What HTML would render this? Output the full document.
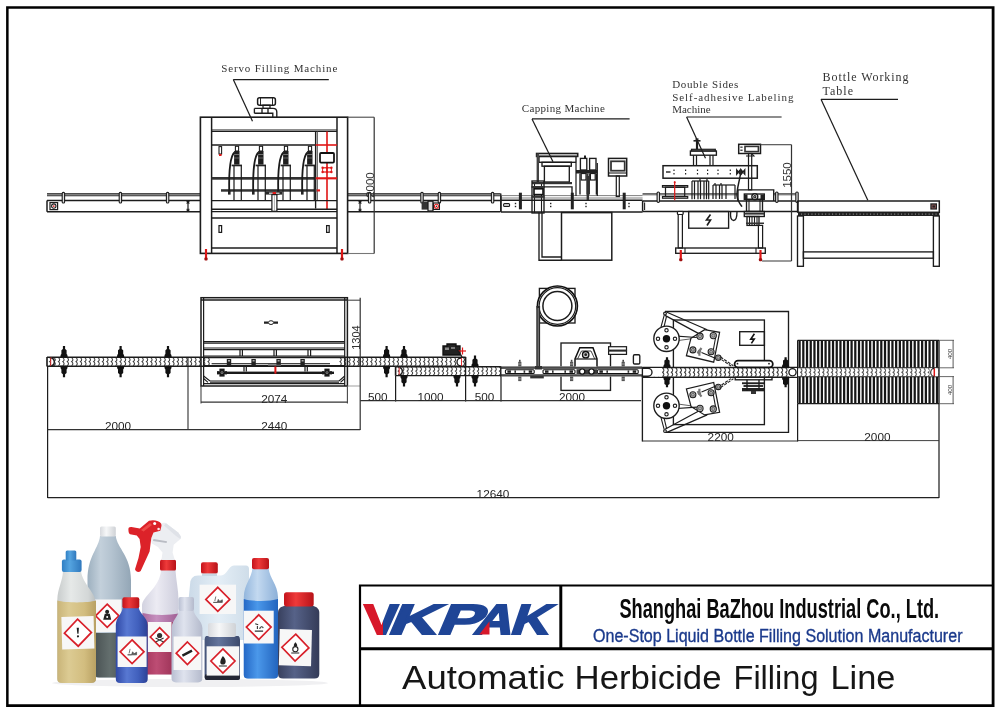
<!DOCTYPE html>
<html lang="en"><head><meta charset="utf-8"><title>Automatic Herbicide Filling Line</title>
<style>html,body{margin:0;padding:0;background:#fff}svg{display:block;will-change:transform;opacity:0.9999}</style></head>
<body>
<svg width="1000" height="715" viewBox="0 0 1000 715">
<rect width="1000" height="715" fill="#fff"/>
<path d="M6.1,6.2 H994.5 V707.1 H6.1 Z M8.6,8.7 V704.3 H991.7 V8.7 Z" fill="#000" fill-rule="evenodd"/>
<path d="M360,705 V585.5 H992" fill="none" stroke="#000" stroke-width="2.2"/>
<line x1="360.0" y1="648.8" x2="992.0" y2="648.8" stroke="#000" stroke-width="2.97" />
<line x1="560.8" y1="585.5" x2="560.8" y2="648.8" stroke="#000" stroke-width="2.97" />
<rect x="47.0" y="193.0" width="153.4" height="3.3" fill="#4d4d4d"/>
<line x1="47.0" y1="194.7" x2="200.4" y2="194.7" stroke="#b5b5b5" stroke-width="0.61" />
<line x1="47.0" y1="200.6" x2="200.4" y2="200.6" stroke="#1c1c1c" stroke-width="1.49" />
<line x1="47.0" y1="211.7" x2="200.4" y2="211.7" stroke="#1c1c1c" stroke-width="1.49" />
<rect x="62.2" y="192.4" width="2.4" height="10.6" rx="1.1" fill="#ddd" stroke="#1c1c1c" stroke-width="1.1"/>
<rect x="119.2" y="192.4" width="2.4" height="10.6" rx="1.1" fill="#ddd" stroke="#1c1c1c" stroke-width="1.1"/>
<rect x="166.4" y="192.4" width="2.4" height="10.6" rx="1.1" fill="#ddd" stroke="#1c1c1c" stroke-width="1.1"/>
<line x1="47.0" y1="200.6" x2="47.0" y2="211.7" stroke="#1c1c1c" stroke-width="1.49" />
<rect x="50.0" y="202.6" width="7.6" height="7.0" stroke="#1c1c1c" stroke-width="1.22" fill="none"/>
<circle cx="53.8" cy="206.1" r="2.2" stroke="#1c1c1c" stroke-width="1.08" fill="none"/>
<circle cx="53.8" cy="206.1" r="0.9" stroke="#e01818" stroke-width="0.00" fill="#e01818"/>
<line x1="188.0" y1="201.6" x2="188.0" y2="211.0" stroke="#1c1c1c" stroke-width="1.22" />
<line x1="186.5" y1="201.6" x2="189.5" y2="201.6" stroke="#1c1c1c" stroke-width="1.22" />
<line x1="186.5" y1="211.0" x2="189.5" y2="211.0" stroke="#1c1c1c" stroke-width="1.22" />
<path d="M186.8,203.8 L188.0,201.6 L189.2,203.8" stroke="#1c1c1c" stroke-width="1.08" fill="none" />
<path d="M186.8,208.8 L188.0,211.0 L189.2,208.8" stroke="#1c1c1c" stroke-width="1.08" fill="none" />
<rect x="347.6" y="193.0" width="152.9" height="3.3" fill="#4d4d4d"/>
<line x1="347.6" y1="194.7" x2="500.5" y2="194.7" stroke="#b5b5b5" stroke-width="0.61" />
<line x1="347.6" y1="200.6" x2="500.5" y2="200.6" stroke="#1c1c1c" stroke-width="1.49" />
<line x1="347.6" y1="211.7" x2="500.5" y2="211.7" stroke="#1c1c1c" stroke-width="1.49" />
<rect x="368.4" y="192.4" width="2.4" height="10.6" rx="1.1" fill="#ddd" stroke="#1c1c1c" stroke-width="1.1"/>
<rect x="420.8" y="192.4" width="2.4" height="10.6" rx="1.1" fill="#ddd" stroke="#1c1c1c" stroke-width="1.1"/>
<rect x="438.2" y="192.4" width="2.4" height="10.6" rx="1.1" fill="#ddd" stroke="#1c1c1c" stroke-width="1.1"/>
<rect x="491.4" y="192.4" width="2.4" height="10.6" rx="1.1" fill="#ddd" stroke="#1c1c1c" stroke-width="1.1"/>
<line x1="500.8" y1="193.5" x2="500.8" y2="211.7" stroke="#1c1c1c" stroke-width="1.35" />
<line x1="360.0" y1="201.6" x2="360.0" y2="211.0" stroke="#1c1c1c" stroke-width="1.22" />
<line x1="358.5" y1="201.6" x2="361.5" y2="201.6" stroke="#1c1c1c" stroke-width="1.22" />
<line x1="358.5" y1="211.0" x2="361.5" y2="211.0" stroke="#1c1c1c" stroke-width="1.22" />
<path d="M358.8,203.8 L360.0,201.6 L361.2,203.8" stroke="#1c1c1c" stroke-width="1.08" fill="none" />
<path d="M358.8,208.8 L360.0,211.0 L361.2,208.8" stroke="#1c1c1c" stroke-width="1.08" fill="none" />
<rect x="421.6" y="201.6" width="6.4" height="8.0" fill="#333"/>
<rect x="428.0" y="201.2" width="5.0" height="9.8" stroke="#1c1c1c" stroke-width="1.22" fill="#ddd"/>
<rect x="433.4" y="203.0" width="6.0" height="6.4" stroke="#1c1c1c" stroke-width="1.22" fill="none"/>
<circle cx="436.4" cy="206.2" r="2.0" stroke="#e01818" stroke-width="1.08" fill="none"/>
<circle cx="436.4" cy="206.2" r="0.8" stroke="#e01818" stroke-width="0.00" fill="#222"/>
<rect x="200.4" y="117.2" width="147.2" height="136.2" stroke="#1c1c1c" stroke-width="1.62" fill="none"/>
<line x1="211.6" y1="117.2" x2="211.6" y2="253.4" stroke="#1c1c1c" stroke-width="1.49" />
<line x1="337.0" y1="117.2" x2="337.0" y2="253.4" stroke="#1c1c1c" stroke-width="1.49" />
<line x1="211.6" y1="130.0" x2="337.0" y2="130.0" stroke="#1c1c1c" stroke-width="1.22" />
<line x1="211.6" y1="131.5" x2="337.0" y2="131.5" stroke="#1c1c1c" stroke-width="1.22" />
<line x1="211.6" y1="145.0" x2="315.6" y2="145.0" stroke="#1c1c1c" stroke-width="1.35" />
<line x1="315.6" y1="131.5" x2="315.6" y2="208.6" stroke="#1c1c1c" stroke-width="1.35" />
<line x1="317.3" y1="131.5" x2="317.3" y2="200.6" stroke="#555" stroke-width="1.08" />
<line x1="327.0" y1="131.5" x2="327.0" y2="209.0" stroke="#e01818" stroke-width="1.62" />
<line x1="315.6" y1="145.0" x2="337.0" y2="145.0" stroke="#e01818" stroke-width="1.62" />
<line x1="315.6" y1="178.3" x2="337.0" y2="178.3" stroke="#e01818" stroke-width="2.16" />
<rect x="320.0" y="153.0" width="14.0" height="9.6" stroke="#111" stroke-width="1.76" fill="#fff" rx="1"/>
<circle cx="322.6" cy="167.8" r="1.2" stroke="#e01818" stroke-width="0.00" fill="#e01818"/>
<circle cx="322.6" cy="172.0" r="1.2" stroke="#e01818" stroke-width="0.00" fill="#e01818"/>
<circle cx="327.0" cy="167.8" r="1.2" stroke="#e01818" stroke-width="0.00" fill="#e01818"/>
<circle cx="327.0" cy="172.0" r="1.2" stroke="#e01818" stroke-width="0.00" fill="#e01818"/>
<circle cx="331.4" cy="167.8" r="1.2" stroke="#e01818" stroke-width="0.00" fill="#e01818"/>
<circle cx="331.4" cy="172.0" r="1.2" stroke="#e01818" stroke-width="0.00" fill="#e01818"/>
<line x1="322.6" y1="167.8" x2="331.4" y2="167.8" stroke="#e01818" stroke-width="1.22" />
<line x1="322.6" y1="172.0" x2="331.4" y2="172.0" stroke="#e01818" stroke-width="1.22" />
<line x1="322.6" y1="167.8" x2="322.6" y2="172.0" stroke="#e01818" stroke-width="0.94" />
<line x1="327.0" y1="167.8" x2="327.0" y2="172.0" stroke="#e01818" stroke-width="0.94" />
<line x1="331.4" y1="167.8" x2="331.4" y2="172.0" stroke="#e01818" stroke-width="0.94" />
<rect x="211.6" y="177.0" width="104.0" height="2.7" fill="#333"/>
<rect x="221.0" y="189.2" width="95.5" height="2.5" fill="#333"/>
<rect x="316.8" y="189.4" width="3.2" height="2.1" fill="#e01818"/>
<line x1="211.6" y1="200.6" x2="337.0" y2="200.6" stroke="#1c1c1c" stroke-width="1.35" />
<line x1="211.6" y1="209.2" x2="337.0" y2="209.2" stroke="#1c1c1c" stroke-width="1.35" />
<line x1="211.6" y1="211.6" x2="337.0" y2="211.6" stroke="#1c1c1c" stroke-width="1.22" />
<line x1="211.6" y1="218.0" x2="337.0" y2="218.0" stroke="#1c1c1c" stroke-width="1.35" />
<line x1="211.6" y1="248.0" x2="337.0" y2="248.0" stroke="#1c1c1c" stroke-width="1.35" />
<rect x="219.0" y="225.6" width="2.6" height="6.8" stroke="#1c1c1c" stroke-width="1.22" fill="none"/>
<rect x="326.6" y="225.6" width="2.6" height="6.8" stroke="#1c1c1c" stroke-width="1.22" fill="none"/>
<line x1="206.0" y1="249.0" x2="206.0" y2="259.0" stroke="#e01818" stroke-width="2.16" />
<rect x="204.4" y="257.5" width="3.2" height="3" rx="1" fill="#a01010"/>
<line x1="342.0" y1="249.0" x2="342.0" y2="259.0" stroke="#e01818" stroke-width="2.16" />
<rect x="340.4" y="257.5" width="3.2" height="3" rx="1" fill="#a01010"/>
<rect x="219.0" y="146.6" width="2.6" height="7.4" stroke="#1c1c1c" stroke-width="1.08" fill="none"/>
<rect x="219.0" y="154.0" width="2.6" height="2.0" fill="#e01818"/>
<rect x="235.4" y="146.3" width="3.2" height="4.7" stroke="#1c1c1c" stroke-width="1.08" fill="none"/>
<rect x="234.1" y="151.0" width="5.4" height="13.6" fill="#1e1e1e"/>
<line x1="234.1" y1="154.5" x2="239.5" y2="154.5" stroke="#bbb" stroke-width="0.54" />
<line x1="234.1" y1="158.0" x2="239.5" y2="158.0" stroke="#999" stroke-width="0.54" />
<rect x="231.6" y="164.6" width="10.4" height="1.7" fill="#222"/>
<line x1="234.0" y1="166.0" x2="234.0" y2="200.6" stroke="#1c1c1c" stroke-width="1.22" />
<line x1="241.3" y1="166.0" x2="241.3" y2="200.6" stroke="#1c1c1c" stroke-width="1.22" />
<path d="M234.4,152.5 C230.5,156 228.8,168 229.2,191" stroke="#1a1a1a" stroke-width="1.82" fill="none" />
<rect x="228.0" y="190.6" width="2.6" height="4.0" fill="#222"/>
<rect x="259.4" y="146.3" width="3.2" height="4.7" stroke="#1c1c1c" stroke-width="1.08" fill="none"/>
<rect x="258.1" y="151.0" width="5.4" height="13.6" fill="#1e1e1e"/>
<line x1="258.1" y1="154.5" x2="263.5" y2="154.5" stroke="#bbb" stroke-width="0.54" />
<line x1="258.1" y1="158.0" x2="263.5" y2="158.0" stroke="#999" stroke-width="0.54" />
<rect x="255.6" y="164.6" width="10.4" height="1.7" fill="#222"/>
<line x1="258.0" y1="166.0" x2="258.0" y2="200.6" stroke="#1c1c1c" stroke-width="1.22" />
<line x1="265.3" y1="166.0" x2="265.3" y2="200.6" stroke="#1c1c1c" stroke-width="1.22" />
<path d="M258.4,152.5 C254.5,156 252.8,168 253.2,191" stroke="#1a1a1a" stroke-width="1.82" fill="none" />
<rect x="252.0" y="190.6" width="2.6" height="4.0" fill="#222"/>
<rect x="284.4" y="146.3" width="3.2" height="4.7" stroke="#1c1c1c" stroke-width="1.08" fill="none"/>
<rect x="283.1" y="151.0" width="5.4" height="13.6" fill="#1e1e1e"/>
<line x1="283.1" y1="154.5" x2="288.5" y2="154.5" stroke="#bbb" stroke-width="0.54" />
<line x1="283.1" y1="158.0" x2="288.5" y2="158.0" stroke="#999" stroke-width="0.54" />
<rect x="280.6" y="164.6" width="10.4" height="1.7" fill="#222"/>
<line x1="283.0" y1="166.0" x2="283.0" y2="200.6" stroke="#1c1c1c" stroke-width="1.22" />
<line x1="290.3" y1="166.0" x2="290.3" y2="200.6" stroke="#1c1c1c" stroke-width="1.22" />
<path d="M283.4,152.5 C279.5,156 277.8,168 278.2,191" stroke="#1a1a1a" stroke-width="1.82" fill="none" />
<rect x="277.0" y="190.6" width="2.6" height="4.0" fill="#222"/>
<rect x="308.4" y="146.3" width="3.2" height="4.7" stroke="#1c1c1c" stroke-width="1.08" fill="none"/>
<rect x="307.1" y="151.0" width="5.4" height="13.6" fill="#1e1e1e"/>
<line x1="307.1" y1="154.5" x2="312.5" y2="154.5" stroke="#bbb" stroke-width="0.54" />
<line x1="307.1" y1="158.0" x2="312.5" y2="158.0" stroke="#999" stroke-width="0.54" />
<rect x="304.6" y="164.6" width="10.4" height="1.7" fill="#222"/>
<line x1="307.0" y1="166.0" x2="307.0" y2="200.6" stroke="#1c1c1c" stroke-width="1.22" />
<line x1="314.3" y1="166.0" x2="314.3" y2="200.6" stroke="#1c1c1c" stroke-width="1.22" />
<path d="M307.4,152.5 C303.5,156 301.8,168 302.2,191" stroke="#1a1a1a" stroke-width="1.82" fill="none" />
<rect x="301.0" y="190.6" width="2.6" height="4.0" fill="#222"/>
<rect x="265.3" y="191.4" width="16.9" height="3.2" fill="#2a2a2a"/>
<rect x="269.0" y="192.6" width="10.5" height="1.2" fill="#ddd"/>
<rect x="272.6" y="192.0" width="3.4" height="2.8" fill="#e01818"/>
<rect x="271.9" y="194.6" width="5.0" height="16.7" stroke="#1c1c1c" stroke-width="1.22" fill="#fff"/>
<line x1="274.4" y1="195.0" x2="274.4" y2="211.0" stroke="#888" stroke-width="0.68" />
<rect x="257.6" y="97.7" width="17.8" height="7.5" stroke="#1c1c1c" stroke-width="1.49" fill="#fff" rx="2"/>
<line x1="260.5" y1="97.7" x2="260.5" y2="105.2" stroke="#1c1c1c" stroke-width="0.94" />
<line x1="272.5" y1="97.7" x2="272.5" y2="105.2" stroke="#1c1c1c" stroke-width="0.94" />
<rect x="263.0" y="105.2" width="7.0" height="3.2" stroke="#1c1c1c" stroke-width="1.22" fill="none"/>
<path d="M254.4,108.4 H273 Q276.8,108.4 276.8,112 V117.2 M254.4,113.2 H272.8 V117.2 M254.4,108.4 V113.2 M262,108.4 V113.2 M268,108.4 V113.2" stroke="#1c1c1c" stroke-width="1.35" fill="none" />
<text x="221.3" y="72.4" font-family="&quot;Liberation Serif&quot;, serif" font-size="11" text-anchor="start" fill="#333" font-weight="normal" font-style="normal" textLength="116.0" lengthAdjust="spacing" >Servo Filling Machine</text>
<line x1="233.3" y1="79.6" x2="328.8" y2="79.6" stroke="#1c1c1c" stroke-width="1.22" />
<line x1="233.3" y1="79.6" x2="252.5" y2="121.2" stroke="#1c1c1c" stroke-width="1.22" />
<line x1="347.6" y1="117.2" x2="374.2" y2="117.2" stroke="#444" stroke-width="1.08" />
<line x1="347.6" y1="253.5" x2="374.2" y2="253.5" stroke="#777" stroke-width="1.08" />
<line x1="374.2" y1="117.2" x2="374.2" y2="253.5" stroke="#333" stroke-width="1.22" />
<text transform="translate(374.2,185.0) rotate(-90)" font-family="&quot;Liberation Sans&quot;, sans-serif" font-size="11" text-anchor="middle" fill="#333" textLength="25.5" lengthAdjust="spacingAndGlyphs">2000</text>
<line x1="501.0" y1="195.6" x2="642.6" y2="195.6" stroke="#777" stroke-width="0.94" />
<line x1="501.0" y1="198.0" x2="642.6" y2="198.0" stroke="#777" stroke-width="0.94" />
<line x1="501.0" y1="200.2" x2="642.6" y2="200.2" stroke="#1c1c1c" stroke-width="1.35" />
<line x1="501.0" y1="211.9" x2="642.6" y2="211.9" stroke="#1c1c1c" stroke-width="1.49" />
<line x1="501.0" y1="195.6" x2="501.0" y2="211.9" stroke="#1c1c1c" stroke-width="1.22" />
<rect x="503.6" y="203.6" width="6.0" height="2.8" stroke="#1c1c1c" stroke-width="1.08" fill="#fff" rx="1"/>
<rect x="518.9" y="192.7" width="3.0" height="16.6" fill="#222"/>
<rect x="570.8" y="192.7" width="3.0" height="16.6" fill="#222"/>
<rect x="622.7" y="192.7" width="3.0" height="16.6" fill="#222"/>
<rect x="514.8" y="202.8" width="1.4" height="1.4" fill="#222"/>
<rect x="514.8" y="205.8" width="1.4" height="1.4" fill="#222"/>
<rect x="550.0" y="202.8" width="1.4" height="1.4" fill="#222"/>
<rect x="550.0" y="205.8" width="1.4" height="1.4" fill="#222"/>
<rect x="585.3" y="202.8" width="1.4" height="1.4" fill="#222"/>
<rect x="585.3" y="205.8" width="1.4" height="1.4" fill="#222"/>
<rect x="628.3" y="202.8" width="1.4" height="1.4" fill="#222"/>
<rect x="628.3" y="205.8" width="1.4" height="1.4" fill="#222"/>
<rect x="536.6" y="153.5" width="41.1" height="2.9" stroke="#1c1c1c" stroke-width="1.62" fill="none"/>
<rect x="539.0" y="156.4" width="37.0" height="5.9" stroke="#1c1c1c" stroke-width="1.35" fill="none"/>
<rect x="542.0" y="162.3" width="29.3" height="3.9" stroke="#1c1c1c" stroke-width="1.35" fill="none"/>
<rect x="544.4" y="166.2" width="24.9" height="15.8" stroke="#1c1c1c" stroke-width="1.35" fill="none"/>
<rect x="532.0" y="182.0" width="40.0" height="2.2" fill="#333"/>
<rect x="536.6" y="153.5" width="2.4" height="28.5" fill="#444"/>
<rect x="532.0" y="181.0" width="12.0" height="32.0" stroke="#1c1c1c" stroke-width="1.35" fill="none"/>
<line x1="534.5" y1="184.0" x2="534.5" y2="213.0" stroke="#1c1c1c" stroke-width="1.08" />
<line x1="541.5" y1="184.0" x2="541.5" y2="213.0" stroke="#1c1c1c" stroke-width="1.08" />
<rect x="531.5" y="186.0" width="13.0" height="2.0" fill="#333"/>
<rect x="534.0" y="188.8" width="9.0" height="5.8" stroke="#111" stroke-width="1.62" fill="#fff"/>
<rect x="531.5" y="196.0" width="13.0" height="1.8" fill="#333"/>
<path d="M544,186.8 H572 V200.2" stroke="#1c1c1c" stroke-width="1.35" fill="none" />
<rect x="580.4" y="158.4" width="6.4" height="11.6" stroke="#1c1c1c" stroke-width="1.35" fill="none"/>
<rect x="581.2" y="173.5" width="4.8" height="6.5" stroke="#1c1c1c" stroke-width="1.22" fill="none"/>
<line x1="580.0" y1="173.5" x2="580.0" y2="194.6" stroke="#1c1c1c" stroke-width="1.35" />
<line x1="587.2" y1="173.5" x2="587.2" y2="194.6" stroke="#1c1c1c" stroke-width="1.35" />
<rect x="589.6" y="158.4" width="6.4" height="11.6" stroke="#1c1c1c" stroke-width="1.35" fill="none"/>
<rect x="590.4" y="173.5" width="4.8" height="6.5" stroke="#1c1c1c" stroke-width="1.22" fill="none"/>
<line x1="589.2" y1="173.5" x2="589.2" y2="194.6" stroke="#1c1c1c" stroke-width="1.35" />
<line x1="596.4" y1="173.5" x2="596.4" y2="194.6" stroke="#1c1c1c" stroke-width="1.35" />
<line x1="585.0" y1="155.5" x2="585.0" y2="158.4" stroke="#1c1c1c" stroke-width="2.03" />
<rect x="576.0" y="170.0" width="21.3" height="3.5" fill="#222"/>
<line x1="576.0" y1="163.0" x2="576.0" y2="196.0" stroke="#1c1c1c" stroke-width="1.22" />
<line x1="597.3" y1="163.0" x2="597.3" y2="196.0" stroke="#1c1c1c" stroke-width="1.22" />
<rect x="586.6" y="176.0" width="2.4" height="24.0" fill="#333"/>
<rect x="608.5" y="158.4" width="18.2" height="17.6" stroke="#1c1c1c" stroke-width="1.49" fill="none"/>
<rect x="611.0" y="161.3" width="13.7" height="9.4" stroke="#333" stroke-width="1.76" fill="none"/>
<line x1="608.5" y1="173.0" x2="626.7" y2="173.0" stroke="#1c1c1c" stroke-width="1.08" />
<rect x="616.3" y="176.0" width="3.0" height="20.5" stroke="#1c1c1c" stroke-width="1.22" fill="none"/>
<rect x="561.5" y="212.6" width="50.3" height="47.6" stroke="#1c1c1c" stroke-width="1.49" fill="none"/>
<path d="M539,212.6 V260.2 H561.5 M542,212.6 V257 H561.5" stroke="#1c1c1c" stroke-width="1.35" fill="none" />
<text x="521.8" y="111.8" font-family="&quot;Liberation Serif&quot;, serif" font-size="11" text-anchor="start" fill="#333" font-weight="normal" font-style="normal" textLength="83.0" lengthAdjust="spacing" >Capping Machine</text>
<line x1="532.0" y1="118.9" x2="629.6" y2="118.9" stroke="#1c1c1c" stroke-width="1.22" />
<line x1="532.0" y1="118.9" x2="553.0" y2="161.7" stroke="#1c1c1c" stroke-width="1.22" />
<line x1="642.6" y1="200.9" x2="797.8" y2="200.9" stroke="#1c1c1c" stroke-width="1.49" />
<line x1="642.6" y1="211.5" x2="797.8" y2="211.5" stroke="#1c1c1c" stroke-width="1.49" />
<line x1="642.6" y1="200.9" x2="642.6" y2="211.5" stroke="#1c1c1c" stroke-width="1.49" />
<line x1="644.6" y1="202.5" x2="644.6" y2="210.0" stroke="#1c1c1c" stroke-width="1.08" />
<rect x="642.6" y="193.0" width="95.4" height="2.3" fill="#5a5a5a"/>
<line x1="642.6" y1="194.2" x2="738.0" y2="194.2" stroke="#b5b5b5" stroke-width="0.61" />
<rect x="773.7" y="193.0" width="24.1" height="2.3" fill="#5a5a5a"/>
<line x1="773.7" y1="194.2" x2="797.8" y2="194.2" stroke="#b5b5b5" stroke-width="0.61" />
<rect x="657.1" y="192" width="2.4" height="10.4" rx="1.1" fill="#ddd" stroke="#1c1c1c" stroke-width="1.1"/>
<rect x="775.6" y="192" width="2.4" height="10.4" rx="1.1" fill="#ddd" stroke="#1c1c1c" stroke-width="1.1"/>
<rect x="795.8" y="192" width="2.4" height="10.4" rx="1.1" fill="#ddd" stroke="#1c1c1c" stroke-width="1.1"/>
<rect x="663.0" y="165.7" width="94.3" height="12.5" stroke="#1c1c1c" stroke-width="1.49" fill="none"/>
<rect x="666.0" y="171.3" width="4.5" height="1.4" fill="#222"/>
<rect x="673.4" y="169.5" width="1.2" height="1.5" fill="#222"/>
<rect x="673.4" y="173.0" width="1.2" height="1.5" fill="#222"/>
<rect x="685.0" y="169.5" width="1.2" height="1.5" fill="#222"/>
<rect x="685.0" y="173.0" width="1.2" height="1.5" fill="#222"/>
<rect x="696.9" y="169.5" width="1.2" height="1.5" fill="#222"/>
<rect x="696.9" y="173.0" width="1.2" height="1.5" fill="#222"/>
<rect x="707.0" y="169.5" width="1.2" height="1.5" fill="#222"/>
<rect x="707.0" y="173.0" width="1.2" height="1.5" fill="#222"/>
<rect x="717.4" y="169.5" width="1.2" height="1.5" fill="#222"/>
<rect x="717.4" y="173.0" width="1.2" height="1.5" fill="#222"/>
<rect x="729.7" y="169.5" width="1.2" height="1.5" fill="#222"/>
<rect x="729.7" y="173.0" width="1.2" height="1.5" fill="#222"/>
<path d="M736.7,169.8 L740.3,174.2 L740.3,169.8 L736.7,174.2 Z" stroke="#1c1c1c" stroke-width="1.22" fill="#222" />
<path d="M741.2,169.8 L744.8,174.2 L744.8,169.8 L741.2,174.2 Z" stroke="#1c1c1c" stroke-width="1.22" fill="#222" />
<rect x="690.4" y="151.0" width="26.0" height="4.2" stroke="#1c1c1c" stroke-width="1.35" fill="none"/>
<rect x="691.5" y="149.3" width="23.8" height="1.7" stroke="#1c1c1c" stroke-width="1.22" fill="none"/>
<line x1="693.5" y1="155.2" x2="693.5" y2="165.7" stroke="#1c1c1c" stroke-width="1.22" />
<line x1="696.5" y1="155.2" x2="696.5" y2="165.7" stroke="#1c1c1c" stroke-width="1.22" />
<line x1="710.0" y1="155.2" x2="710.0" y2="165.7" stroke="#1c1c1c" stroke-width="1.22" />
<line x1="713.0" y1="155.2" x2="713.0" y2="165.7" stroke="#1c1c1c" stroke-width="1.22" />
<line x1="697.0" y1="141.0" x2="697.0" y2="149.3" stroke="#1c1c1c" stroke-width="2.16" />
<rect x="693.5" y="140.0" width="7.0" height="1.6" fill="#222"/>
<rect x="695.5" y="138.3" width="3.0" height="1.7" fill="#333"/>
<rect x="738.7" y="144.3" width="21.8" height="9.2" stroke="#1c1c1c" stroke-width="1.49" fill="none"/>
<rect x="745.0" y="146.4" width="13.4" height="5.2" stroke="#333" stroke-width="1.62" fill="none"/>
<rect x="740.3" y="146.5" width="2.3" height="1.3" fill="#333"/>
<rect x="740.3" y="149.6" width="2.3" height="1.3" fill="#333"/>
<rect x="748.5" y="153.5" width="3.2" height="36.3" stroke="#1c1c1c" stroke-width="1.22" fill="none"/>
<path d="M746,156 H754 L751.7,153.5" stroke="#1c1c1c" stroke-width="1.08" fill="none" />
<rect x="662.5" y="185.6" width="25.2" height="1.6" stroke="#1c1c1c" stroke-width="1.22" fill="none"/>
<rect x="665.5" y="187.2" width="19.2" height="9.3" stroke="#1c1c1c" stroke-width="1.22" fill="none"/>
<rect x="662.5" y="196.5" width="25.2" height="1.7" stroke="#1c1c1c" stroke-width="1.22" fill="none"/>
<line x1="674.7" y1="181.4" x2="674.7" y2="200.3" stroke="#e01818" stroke-width="1.22" />
<circle cx="674.7" cy="182.2" r="1.0" stroke="#e01818" stroke-width="0.00" fill="#e01818"/>
<line x1="692.0" y1="181.0" x2="692.0" y2="199.2" stroke="#1c1c1c" stroke-width="1.22" />
<line x1="694.5" y1="181.0" x2="694.5" y2="199.2" stroke="#1c1c1c" stroke-width="1.22" />
<line x1="698.0" y1="181.0" x2="698.0" y2="199.2" stroke="#1c1c1c" stroke-width="1.22" />
<line x1="700.5" y1="181.0" x2="700.5" y2="199.2" stroke="#1c1c1c" stroke-width="1.22" />
<line x1="704.0" y1="181.0" x2="704.0" y2="199.2" stroke="#1c1c1c" stroke-width="1.22" />
<line x1="706.5" y1="181.0" x2="706.5" y2="199.2" stroke="#1c1c1c" stroke-width="1.22" />
<line x1="708.7" y1="181.0" x2="708.7" y2="199.2" stroke="#1c1c1c" stroke-width="1.22" />
<line x1="692.0" y1="181.0" x2="708.7" y2="181.0" stroke="#1c1c1c" stroke-width="1.22" />
<line x1="700.0" y1="179.0" x2="700.0" y2="181.0" stroke="#1c1c1c" stroke-width="1.22" />
<line x1="707.0" y1="179.0" x2="707.0" y2="181.0" stroke="#1c1c1c" stroke-width="1.22" />
<line x1="713.0" y1="185.0" x2="713.0" y2="199.0" stroke="#1c1c1c" stroke-width="1.22" />
<line x1="716.0" y1="185.0" x2="716.0" y2="199.0" stroke="#1c1c1c" stroke-width="1.22" />
<line x1="719.5" y1="185.0" x2="719.5" y2="199.0" stroke="#1c1c1c" stroke-width="1.22" />
<line x1="722.0" y1="185.0" x2="722.0" y2="199.0" stroke="#1c1c1c" stroke-width="1.22" />
<line x1="726.0" y1="185.0" x2="726.0" y2="199.0" stroke="#1c1c1c" stroke-width="1.22" />
<line x1="713.0" y1="185.0" x2="735.0" y2="185.0" stroke="#1c1c1c" stroke-width="1.22" />
<line x1="735.0" y1="185.0" x2="735.0" y2="199.0" stroke="#1c1c1c" stroke-width="1.22" />
<line x1="715.0" y1="183.0" x2="715.0" y2="185.0" stroke="#1c1c1c" stroke-width="1.22" />
<line x1="721.0" y1="183.0" x2="721.0" y2="185.0" stroke="#1c1c1c" stroke-width="1.22" />
<path d="M738,200.9 V189.8 H773.7 V200.9" stroke="#1c1c1c" stroke-width="1.35" fill="none" />
<rect x="744.3" y="194.0" width="20.0" height="5.4" stroke="#1c1c1c" stroke-width="1.35" fill="none"/>
<rect x="744.3" y="194.5" width="3.2" height="4.5" fill="#222"/>
<rect x="760.5" y="194.5" width="3.8" height="4.5" fill="#222"/>
<circle cx="754.8" cy="196.7" r="3.0" stroke="#1c1c1c" stroke-width="1.35" fill="#fff"/>
<circle cx="754.8" cy="196.7" r="1.1" stroke="#1c1c1c" stroke-width="1.08" fill="none"/>
<rect x="746.5" y="199.4" width="16.0" height="12.1" stroke="#1c1c1c" stroke-width="1.35" fill="none"/>
<line x1="749.0" y1="199.4" x2="749.0" y2="211.5" stroke="#1c1c1c" stroke-width="1.08" />
<line x1="760.0" y1="199.4" x2="760.0" y2="211.5" stroke="#1c1c1c" stroke-width="1.08" />
<rect x="744.3" y="211.5" width="20.0" height="5.0" stroke="#1c1c1c" stroke-width="1.35" fill="none"/>
<rect x="744.3" y="213.0" width="20.0" height="1.6" fill="#333"/>
<rect x="747.0" y="216.5" width="12.0" height="8.9" stroke="#1c1c1c" stroke-width="1.35" fill="none"/>
<line x1="749.5" y1="216.5" x2="749.5" y2="225.4" stroke="#1c1c1c" stroke-width="1.08" />
<line x1="752.0" y1="216.5" x2="752.0" y2="225.4" stroke="#1c1c1c" stroke-width="1.08" />
<line x1="754.5" y1="216.5" x2="754.5" y2="225.4" stroke="#1c1c1c" stroke-width="1.08" />
<line x1="757.0" y1="216.5" x2="757.0" y2="225.4" stroke="#1c1c1c" stroke-width="1.08" />
<rect x="746.0" y="222.5" width="18.0" height="1.5" fill="#333"/>
<path d="M740.5,174 C739,183 736.5,190 737,196 C737.5,201 740,204 742,206.6" stroke="#1c1c1c" stroke-width="1.49" fill="none" />
<path d="M730.7,211.5 C730,217 731,220.5 733.5,220.5 C736.5,220.5 737,216 737,211.5" stroke="#1c1c1c" stroke-width="1.35" fill="none" />
<rect x="678.2" y="211.5" width="4.2" height="36.5" stroke="#1c1c1c" stroke-width="1.22" fill="none"/>
<rect x="677.4" y="211.5" width="5.8" height="3.0" stroke="#1c1c1c" stroke-width="1.22" fill="#fff" rx="1"/>
<rect x="758.4" y="225.4" width="4.2" height="22.6" stroke="#1c1c1c" stroke-width="1.22" fill="none"/>
<rect x="675.7" y="248.0" width="89.6" height="5.3" stroke="#1c1c1c" stroke-width="1.35" fill="none"/>
<line x1="685.0" y1="248.0" x2="685.0" y2="253.3" stroke="#1c1c1c" stroke-width="1.08" />
<line x1="756.0" y1="248.0" x2="756.0" y2="253.3" stroke="#1c1c1c" stroke-width="1.08" />
<line x1="680.8" y1="250.0" x2="680.8" y2="259.7" stroke="#e01818" stroke-width="2.16" />
<rect x="679.2" y="258.2" width="3.2" height="3" rx="1" fill="#a01010"/>
<line x1="760.5" y1="250.0" x2="760.5" y2="259.7" stroke="#e01818" stroke-width="2.16" />
<rect x="758.9" y="258.2" width="3.2" height="3" rx="1" fill="#a01010"/>
<rect x="688.7" y="211.5" width="39.9" height="16.7" stroke="#1c1c1c" stroke-width="1.35" fill="none"/>
<path d="M710.5,214.5 L706.5,220 H710.5 L707,225.5" stroke="#1c1c1c" stroke-width="1.62" fill="none" />
<line x1="760.5" y1="144.7" x2="791.5" y2="144.7" stroke="#444" stroke-width="1.08" />
<line x1="762.0" y1="261.0" x2="791.5" y2="261.0" stroke="#444" stroke-width="1.08" />
<line x1="791.5" y1="144.7" x2="791.5" y2="261.0" stroke="#333" stroke-width="1.22" />
<text transform="translate(791.2,175.0) rotate(-90)" font-family="&quot;Liberation Sans&quot;, sans-serif" font-size="11" text-anchor="middle" fill="#333" textLength="25.5" lengthAdjust="spacingAndGlyphs">1550</text>
<text x="672.2" y="87.8" font-family="&quot;Liberation Serif&quot;, serif" font-size="11" text-anchor="start" fill="#333" font-weight="normal" font-style="normal" textLength="66.2" lengthAdjust="spacing" >Double Sides</text>
<text x="672.2" y="101.0" font-family="&quot;Liberation Serif&quot;, serif" font-size="11" text-anchor="start" fill="#333" font-weight="normal" font-style="normal" textLength="121.2" lengthAdjust="spacing" >Self-adhesive Labeling</text>
<text x="672.2" y="112.8" font-family="&quot;Liberation Serif&quot;, serif" font-size="11" text-anchor="start" fill="#333" font-weight="normal" font-style="normal" textLength="38.4" lengthAdjust="spacing" >Machine</text>
<line x1="686.6" y1="117.0" x2="781.6" y2="117.0" stroke="#1c1c1c" stroke-width="1.22" />
<line x1="686.6" y1="117.0" x2="705.5" y2="158.3" stroke="#1c1c1c" stroke-width="1.22" />
<rect x="798.0" y="201.0" width="141.3" height="11.3" stroke="#1c1c1c" stroke-width="1.49" fill="none"/>
<rect x="798.0" y="212.3" width="141.3" height="3.7" fill="#222"/>
<rect x="801.0" y="213.6" width="1.1" height="1.0" fill="#999"/>
<rect x="804.5" y="213.6" width="1.1" height="1.0" fill="#999"/>
<rect x="807.9" y="213.6" width="1.1" height="1.0" fill="#999"/>
<rect x="811.4" y="213.6" width="1.1" height="1.0" fill="#999"/>
<rect x="814.8" y="213.6" width="1.1" height="1.0" fill="#999"/>
<rect x="818.2" y="213.6" width="1.1" height="1.0" fill="#999"/>
<rect x="821.7" y="213.6" width="1.1" height="1.0" fill="#999"/>
<rect x="825.1" y="213.6" width="1.1" height="1.0" fill="#999"/>
<rect x="828.6" y="213.6" width="1.1" height="1.0" fill="#999"/>
<rect x="832.0" y="213.6" width="1.1" height="1.0" fill="#999"/>
<rect x="835.5" y="213.6" width="1.1" height="1.0" fill="#999"/>
<rect x="839.0" y="213.6" width="1.1" height="1.0" fill="#999"/>
<rect x="842.4" y="213.6" width="1.1" height="1.0" fill="#999"/>
<rect x="845.9" y="213.6" width="1.1" height="1.0" fill="#999"/>
<rect x="849.3" y="213.6" width="1.1" height="1.0" fill="#999"/>
<rect x="852.8" y="213.6" width="1.1" height="1.0" fill="#999"/>
<rect x="856.2" y="213.6" width="1.1" height="1.0" fill="#999"/>
<rect x="859.6" y="213.6" width="1.1" height="1.0" fill="#999"/>
<rect x="863.1" y="213.6" width="1.1" height="1.0" fill="#999"/>
<rect x="866.5" y="213.6" width="1.1" height="1.0" fill="#999"/>
<rect x="870.0" y="213.6" width="1.1" height="1.0" fill="#999"/>
<rect x="873.5" y="213.6" width="1.1" height="1.0" fill="#999"/>
<rect x="876.9" y="213.6" width="1.1" height="1.0" fill="#999"/>
<rect x="880.4" y="213.6" width="1.1" height="1.0" fill="#999"/>
<rect x="883.8" y="213.6" width="1.1" height="1.0" fill="#999"/>
<rect x="887.2" y="213.6" width="1.1" height="1.0" fill="#999"/>
<rect x="890.7" y="213.6" width="1.1" height="1.0" fill="#999"/>
<rect x="894.1" y="213.6" width="1.1" height="1.0" fill="#999"/>
<rect x="897.6" y="213.6" width="1.1" height="1.0" fill="#999"/>
<rect x="901.0" y="213.6" width="1.1" height="1.0" fill="#999"/>
<rect x="904.5" y="213.6" width="1.1" height="1.0" fill="#999"/>
<rect x="908.0" y="213.6" width="1.1" height="1.0" fill="#999"/>
<rect x="911.4" y="213.6" width="1.1" height="1.0" fill="#999"/>
<rect x="914.9" y="213.6" width="1.1" height="1.0" fill="#999"/>
<rect x="918.3" y="213.6" width="1.1" height="1.0" fill="#999"/>
<rect x="921.8" y="213.6" width="1.1" height="1.0" fill="#999"/>
<rect x="925.2" y="213.6" width="1.1" height="1.0" fill="#999"/>
<rect x="928.6" y="213.6" width="1.1" height="1.0" fill="#999"/>
<rect x="932.1" y="213.6" width="1.1" height="1.0" fill="#999"/>
<rect x="935.5" y="213.6" width="1.1" height="1.0" fill="#999"/>
<rect x="797.5" y="216.0" width="5.9" height="50.3" stroke="#1c1c1c" stroke-width="1.35" fill="#fff"/>
<rect x="933.4" y="216.0" width="5.9" height="50.3" stroke="#1c1c1c" stroke-width="1.35" fill="#fff"/>
<rect x="803.4" y="251.9" width="130.0" height="6.3" stroke="#1c1c1c" stroke-width="1.35" fill="none"/>
<rect x="930.3" y="203.3" width="6.7" height="6.3" fill="#222"/>
<rect x="932.0" y="205.0" width="3.3" height="3.0" stroke="#a66" stroke-width="0.68" fill="none"/>
<line x1="797.5" y1="201.0" x2="797.5" y2="212.3" stroke="#1c1c1c" stroke-width="1.35" />
<text x="822.5" y="80.7" font-family="&quot;Liberation Serif&quot;, serif" font-size="12" text-anchor="start" fill="#333" font-weight="normal" font-style="normal" textLength="86.0" lengthAdjust="spacing" >Bottle Working</text>
<text x="822.5" y="94.5" font-family="&quot;Liberation Serif&quot;, serif" font-size="12" text-anchor="start" fill="#333" font-weight="normal" font-style="normal" textLength="30.5" lengthAdjust="spacing" >Table</text>
<line x1="821.0" y1="99.3" x2="898.0" y2="99.3" stroke="#1c1c1c" stroke-width="1.22" />
<line x1="821.0" y1="99.3" x2="867.8" y2="200.2" stroke="#1c1c1c" stroke-width="1.22" />
<rect x="47.0" y="356.9" width="418.6" height="9.5" fill="#fff"/>
<path d="M49.60,357.7 q2.6,1.98 0,3.95 q2.6,1.98 0,3.95 M54.00,357.7 q2.6,1.98 0,3.95 q2.6,1.98 0,3.95 M58.40,357.7 q2.6,1.98 0,3.95 q2.6,1.98 0,3.95 M62.80,357.7 q2.6,1.98 0,3.95 q2.6,1.98 0,3.95 M67.20,357.7 q2.6,1.98 0,3.95 q2.6,1.98 0,3.95 M71.60,357.7 q2.6,1.98 0,3.95 q2.6,1.98 0,3.95 M76.00,357.7 q2.6,1.98 0,3.95 q2.6,1.98 0,3.95 M80.40,357.7 q2.6,1.98 0,3.95 q2.6,1.98 0,3.95 M84.80,357.7 q2.6,1.98 0,3.95 q2.6,1.98 0,3.95 M89.20,357.7 q2.6,1.98 0,3.95 q2.6,1.98 0,3.95 M93.60,357.7 q2.6,1.98 0,3.95 q2.6,1.98 0,3.95 M98.00,357.7 q2.6,1.98 0,3.95 q2.6,1.98 0,3.95 M102.40,357.7 q2.6,1.98 0,3.95 q2.6,1.98 0,3.95 M106.80,357.7 q2.6,1.98 0,3.95 q2.6,1.98 0,3.95 M111.20,357.7 q2.6,1.98 0,3.95 q2.6,1.98 0,3.95 M115.60,357.7 q2.6,1.98 0,3.95 q2.6,1.98 0,3.95 M120.00,357.7 q2.6,1.98 0,3.95 q2.6,1.98 0,3.95 M124.40,357.7 q2.6,1.98 0,3.95 q2.6,1.98 0,3.95 M128.80,357.7 q2.6,1.98 0,3.95 q2.6,1.98 0,3.95 M133.20,357.7 q2.6,1.98 0,3.95 q2.6,1.98 0,3.95 M137.60,357.7 q2.6,1.98 0,3.95 q2.6,1.98 0,3.95 M142.00,357.7 q2.6,1.98 0,3.95 q2.6,1.98 0,3.95 M146.40,357.7 q2.6,1.98 0,3.95 q2.6,1.98 0,3.95 M150.80,357.7 q2.6,1.98 0,3.95 q2.6,1.98 0,3.95 M155.20,357.7 q2.6,1.98 0,3.95 q2.6,1.98 0,3.95 M159.60,357.7 q2.6,1.98 0,3.95 q2.6,1.98 0,3.95 M164.00,357.7 q2.6,1.98 0,3.95 q2.6,1.98 0,3.95 M168.40,357.7 q2.6,1.98 0,3.95 q2.6,1.98 0,3.95 M172.80,357.7 q2.6,1.98 0,3.95 q2.6,1.98 0,3.95 M177.20,357.7 q2.6,1.98 0,3.95 q2.6,1.98 0,3.95 M181.60,357.7 q2.6,1.98 0,3.95 q2.6,1.98 0,3.95 M186.00,357.7 q2.6,1.98 0,3.95 q2.6,1.98 0,3.95 M190.40,357.7 q2.6,1.98 0,3.95 q2.6,1.98 0,3.95 M194.80,357.7 q2.6,1.98 0,3.95 q2.6,1.98 0,3.95 M199.20,357.7 q2.6,1.98 0,3.95 q2.6,1.98 0,3.95 M203.60,357.7 q2.6,1.98 0,3.95 q2.6,1.98 0,3.95 M208.00,357.7 q2.6,1.98 0,3.95 q2.6,1.98 0,3.95 M212.40,357.7 q2.6,1.98 0,3.95 q2.6,1.98 0,3.95 M216.80,357.7 q2.6,1.98 0,3.95 q2.6,1.98 0,3.95 M221.20,357.7 q2.6,1.98 0,3.95 q2.6,1.98 0,3.95 M225.60,357.7 q2.6,1.98 0,3.95 q2.6,1.98 0,3.95 M230.00,357.7 q2.6,1.98 0,3.95 q2.6,1.98 0,3.95 M234.40,357.7 q2.6,1.98 0,3.95 q2.6,1.98 0,3.95 M238.80,357.7 q2.6,1.98 0,3.95 q2.6,1.98 0,3.95 M243.20,357.7 q2.6,1.98 0,3.95 q2.6,1.98 0,3.95 M247.60,357.7 q2.6,1.98 0,3.95 q2.6,1.98 0,3.95 M252.00,357.7 q2.6,1.98 0,3.95 q2.6,1.98 0,3.95 M256.40,357.7 q2.6,1.98 0,3.95 q2.6,1.98 0,3.95 M260.80,357.7 q2.6,1.98 0,3.95 q2.6,1.98 0,3.95 M265.20,357.7 q2.6,1.98 0,3.95 q2.6,1.98 0,3.95 M269.60,357.7 q2.6,1.98 0,3.95 q2.6,1.98 0,3.95 M274.00,357.7 q2.6,1.98 0,3.95 q2.6,1.98 0,3.95 M278.40,357.7 q2.6,1.98 0,3.95 q2.6,1.98 0,3.95 M282.80,357.7 q2.6,1.98 0,3.95 q2.6,1.98 0,3.95 M287.20,357.7 q2.6,1.98 0,3.95 q2.6,1.98 0,3.95 M291.60,357.7 q2.6,1.98 0,3.95 q2.6,1.98 0,3.95 M296.00,357.7 q2.6,1.98 0,3.95 q2.6,1.98 0,3.95 M300.40,357.7 q2.6,1.98 0,3.95 q2.6,1.98 0,3.95 M304.80,357.7 q2.6,1.98 0,3.95 q2.6,1.98 0,3.95 M309.20,357.7 q2.6,1.98 0,3.95 q2.6,1.98 0,3.95 M313.60,357.7 q2.6,1.98 0,3.95 q2.6,1.98 0,3.95 M318.00,357.7 q2.6,1.98 0,3.95 q2.6,1.98 0,3.95 M322.40,357.7 q2.6,1.98 0,3.95 q2.6,1.98 0,3.95 M326.80,357.7 q2.6,1.98 0,3.95 q2.6,1.98 0,3.95 M331.20,357.7 q2.6,1.98 0,3.95 q2.6,1.98 0,3.95 M335.60,357.7 q2.6,1.98 0,3.95 q2.6,1.98 0,3.95 M340.00,357.7 q2.6,1.98 0,3.95 q2.6,1.98 0,3.95 M344.40,357.7 q2.6,1.98 0,3.95 q2.6,1.98 0,3.95 M348.80,357.7 q2.6,1.98 0,3.95 q2.6,1.98 0,3.95 M353.20,357.7 q2.6,1.98 0,3.95 q2.6,1.98 0,3.95 M357.60,357.7 q2.6,1.98 0,3.95 q2.6,1.98 0,3.95 M362.00,357.7 q2.6,1.98 0,3.95 q2.6,1.98 0,3.95 M366.40,357.7 q2.6,1.98 0,3.95 q2.6,1.98 0,3.95 M370.80,357.7 q2.6,1.98 0,3.95 q2.6,1.98 0,3.95 M375.20,357.7 q2.6,1.98 0,3.95 q2.6,1.98 0,3.95 M379.60,357.7 q2.6,1.98 0,3.95 q2.6,1.98 0,3.95 M384.00,357.7 q2.6,1.98 0,3.95 q2.6,1.98 0,3.95 M388.40,357.7 q2.6,1.98 0,3.95 q2.6,1.98 0,3.95 M392.80,357.7 q2.6,1.98 0,3.95 q2.6,1.98 0,3.95 M397.20,357.7 q2.6,1.98 0,3.95 q2.6,1.98 0,3.95 M401.60,357.7 q2.6,1.98 0,3.95 q2.6,1.98 0,3.95 M406.00,357.7 q2.6,1.98 0,3.95 q2.6,1.98 0,3.95 M410.40,357.7 q2.6,1.98 0,3.95 q2.6,1.98 0,3.95 M414.80,357.7 q2.6,1.98 0,3.95 q2.6,1.98 0,3.95 M419.20,357.7 q2.6,1.98 0,3.95 q2.6,1.98 0,3.95 M423.60,357.7 q2.6,1.98 0,3.95 q2.6,1.98 0,3.95 M428.00,357.7 q2.6,1.98 0,3.95 q2.6,1.98 0,3.95 M432.40,357.7 q2.6,1.98 0,3.95 q2.6,1.98 0,3.95 M436.80,357.7 q2.6,1.98 0,3.95 q2.6,1.98 0,3.95 M441.20,357.7 q2.6,1.98 0,3.95 q2.6,1.98 0,3.95 M445.60,357.7 q2.6,1.98 0,3.95 q2.6,1.98 0,3.95 M450.00,357.7 q2.6,1.98 0,3.95 q2.6,1.98 0,3.95 M454.40,357.7 q2.6,1.98 0,3.95 q2.6,1.98 0,3.95 M458.80,357.7 q2.6,1.98 0,3.95 q2.6,1.98 0,3.95 M463.20,357.7 q2.6,1.98 0,3.95 q2.6,1.98 0,3.95" stroke="#3a3a3a" stroke-width="1.05" fill="none"/>
<line x1="47.0" y1="357.2" x2="465.6" y2="357.2" stroke="#1c1c1c" stroke-width="1.42" />
<line x1="47.0" y1="366.3" x2="465.6" y2="366.3" stroke="#1c1c1c" stroke-width="1.42" />
<rect x="211.5" y="357.6" width="127.0" height="8.2" fill="#fff"/>
<line x1="47.0" y1="356.9" x2="47.0" y2="366.4" stroke="#1c1c1c" stroke-width="1.62" />
<line x1="51.2" y1="357.5" x2="51.2" y2="366.0" stroke="#e01818" stroke-width="1.76" />
<path d="M51.2,357.8 A4,4.2 0 0 1 51.2,366" stroke="#1c1c1c" stroke-width="1.35" fill="#fff" />
<path d="M60.2,357.5 L60.7,354.7 L61.4,353.9 V350.3 L62.9,349.1 V346.1 H65.1 V349.1 L66.6,350.3 V353.9 L67.3,354.7 L67.8,357.5 Z" fill="#111"/>
<path d="M60.2,365.8 L60.7,368.6 L61.4,369.4 V373.0 L62.9,374.2 V377.2 H65.1 V374.2 L66.6,373.0 V369.4 L67.3,368.6 L67.8,365.8 Z" fill="#111"/>
<path d="M116.8,357.5 L117.3,354.7 L118.0,353.9 V350.3 L119.5,349.1 V346.1 H121.7 V349.1 L123.2,350.3 V353.9 L123.9,354.7 L124.4,357.5 Z" fill="#111"/>
<path d="M116.8,365.8 L117.3,368.6 L118.0,369.4 V373.0 L119.5,374.2 V377.2 H121.7 V374.2 L123.2,373.0 V369.4 L123.9,368.6 L124.4,365.8 Z" fill="#111"/>
<path d="M164.2,357.5 L164.7,354.7 L165.4,353.9 V350.3 L166.9,349.1 V346.1 H169.1 V349.1 L170.6,350.3 V353.9 L171.3,354.7 L171.8,357.5 Z" fill="#111"/>
<path d="M164.2,365.8 L164.7,368.6 L165.4,369.4 V373.0 L166.9,374.2 V377.2 H169.1 V374.2 L170.6,373.0 V369.4 L171.3,368.6 L171.8,365.8 Z" fill="#111"/>
<line x1="188.0" y1="357.0" x2="188.0" y2="430.0" stroke="#1c1c1c" stroke-width="1.01" />
<line x1="360.2" y1="357.0" x2="360.2" y2="366.4" stroke="#1c1c1c" stroke-width="1.35" />
<rect x="395.6" y="366.4" width="105.4" height="9.3" fill="#fff"/>
<path d="M398.20,367.2 q2.6,1.93 0,3.85 q2.6,1.93 0,3.85 M402.60,367.2 q2.6,1.93 0,3.85 q2.6,1.93 0,3.85 M407.00,367.2 q2.6,1.93 0,3.85 q2.6,1.93 0,3.85 M411.40,367.2 q2.6,1.93 0,3.85 q2.6,1.93 0,3.85 M415.80,367.2 q2.6,1.93 0,3.85 q2.6,1.93 0,3.85 M420.20,367.2 q2.6,1.93 0,3.85 q2.6,1.93 0,3.85 M424.60,367.2 q2.6,1.93 0,3.85 q2.6,1.93 0,3.85 M429.00,367.2 q2.6,1.93 0,3.85 q2.6,1.93 0,3.85 M433.40,367.2 q2.6,1.93 0,3.85 q2.6,1.93 0,3.85 M437.80,367.2 q2.6,1.93 0,3.85 q2.6,1.93 0,3.85 M442.20,367.2 q2.6,1.93 0,3.85 q2.6,1.93 0,3.85 M446.60,367.2 q2.6,1.93 0,3.85 q2.6,1.93 0,3.85 M451.00,367.2 q2.6,1.93 0,3.85 q2.6,1.93 0,3.85 M455.40,367.2 q2.6,1.93 0,3.85 q2.6,1.93 0,3.85 M459.80,367.2 q2.6,1.93 0,3.85 q2.6,1.93 0,3.85 M464.20,367.2 q2.6,1.93 0,3.85 q2.6,1.93 0,3.85 M468.60,367.2 q2.6,1.93 0,3.85 q2.6,1.93 0,3.85 M473.00,367.2 q2.6,1.93 0,3.85 q2.6,1.93 0,3.85 M477.40,367.2 q2.6,1.93 0,3.85 q2.6,1.93 0,3.85 M481.80,367.2 q2.6,1.93 0,3.85 q2.6,1.93 0,3.85 M486.20,367.2 q2.6,1.93 0,3.85 q2.6,1.93 0,3.85 M490.60,367.2 q2.6,1.93 0,3.85 q2.6,1.93 0,3.85 M495.00,367.2 q2.6,1.93 0,3.85 q2.6,1.93 0,3.85 M499.40,367.2 q2.6,1.93 0,3.85 q2.6,1.93 0,3.85" stroke="#3a3a3a" stroke-width="1.05" fill="none"/>
<line x1="395.6" y1="366.7" x2="501.0" y2="366.7" stroke="#1c1c1c" stroke-width="1.42" />
<line x1="395.6" y1="375.6" x2="501.0" y2="375.6" stroke="#1c1c1c" stroke-width="1.42" />
<line x1="395.6" y1="366.4" x2="395.6" y2="375.7" stroke="#1c1c1c" stroke-width="1.62" />
<line x1="465.6" y1="356.9" x2="465.6" y2="366.4" stroke="#1c1c1c" stroke-width="1.62" />
<path d="M382.8,357.5 L383.3,354.7 L384.0,353.9 V350.3 L385.5,349.1 V346.1 H387.7 V349.1 L389.2,350.3 V353.9 L389.9,354.7 L390.4,357.5 Z" fill="#111"/>
<path d="M382.8,365.8 L383.3,368.6 L384.0,369.4 V373.0 L385.5,374.2 V377.2 H387.7 V374.2 L389.2,373.0 V369.4 L389.9,368.6 L390.4,365.8 Z" fill="#111"/>
<path d="M400.2,357.5 L400.7,354.7 L401.4,353.9 V350.3 L402.9,349.1 V346.1 H405.1 V349.1 L406.6,350.3 V353.9 L407.3,354.7 L407.8,357.5 Z" fill="#111"/>
<path d="M400.2,375.1 L400.7,377.9 L401.4,378.7 V382.3 L402.9,383.5 V386.5 H405.1 V383.5 L406.6,382.3 V378.7 L407.3,377.9 L407.8,375.1 Z" fill="#111"/>
<path d="M453.2,375.1 L453.7,377.9 L454.4,378.7 V382.3 L455.9,383.5 V386.5 H458.1 V383.5 L459.6,382.3 V378.7 L460.3,377.9 L460.8,375.1 Z" fill="#111"/>
<path d="M471.2,367.0 L471.7,364.2 L472.4,363.4 V359.8 L473.9,358.6 V355.6 H476.1 V358.6 L477.6,359.8 V363.4 L478.3,364.2 L478.8,367.0 Z" fill="#111"/>
<path d="M471.2,375.1 L471.7,377.9 L472.4,378.7 V382.3 L473.9,383.5 V386.5 H476.1 V383.5 L477.6,382.3 V378.7 L478.3,377.9 L478.8,375.1 Z" fill="#111"/>
<line x1="461.0" y1="358.0" x2="461.0" y2="366.0" stroke="#e01818" stroke-width="1.76" />
<path d="M461,358 A4,4 0 0 0 461,366" stroke="#1c1c1c" stroke-width="1.35" fill="#fff" />
<line x1="399.6" y1="367.4" x2="399.6" y2="375.0" stroke="#e01818" stroke-width="1.76" />
<path d="M399.6,367.4 A4,4 0 0 1 399.6,375" stroke="#1c1c1c" stroke-width="1.35" fill="#fff" />
<path d="M443,346 H447 V344 H456 V346 H460 V355 H443 Z" stroke="#111" stroke-width="1.35" fill="#222" />
<rect x="445.0" y="347.5" width="4.0" height="2.5" fill="#888"/>
<rect x="451.0" y="347.0" width="4.0" height="2.0" fill="#777"/>
<line x1="458.0" y1="351.0" x2="466.0" y2="351.0" stroke="#e01818" stroke-width="1.22" />
<line x1="462.5" y1="347.5" x2="462.5" y2="354.5" stroke="#e01818" stroke-width="1.22" />
<path d="M457,349 L462,356.9" stroke="#1c1c1c" stroke-width="1.35" fill="none" />
<rect x="201.0" y="297.7" width="146.4" height="88.3" stroke="#1c1c1c" stroke-width="1.49" fill="none"/>
<line x1="201.0" y1="300.0" x2="347.4" y2="300.0" stroke="#1c1c1c" stroke-width="1.35" />
<line x1="203.6" y1="297.7" x2="203.6" y2="386.0" stroke="#1c1c1c" stroke-width="1.22" />
<line x1="344.7" y1="297.7" x2="344.7" y2="386.0" stroke="#1c1c1c" stroke-width="1.22" />
<line x1="203.6" y1="341.6" x2="344.7" y2="341.6" stroke="#1c1c1c" stroke-width="1.22" />
<line x1="203.6" y1="343.1" x2="344.7" y2="343.1" stroke="#1c1c1c" stroke-width="1.22" />
<line x1="203.6" y1="348.0" x2="344.7" y2="348.0" stroke="#1c1c1c" stroke-width="1.22" />
<line x1="203.6" y1="349.6" x2="344.7" y2="349.6" stroke="#1c1c1c" stroke-width="1.22" />
<line x1="203.6" y1="356.0" x2="344.7" y2="356.0" stroke="#1c1c1c" stroke-width="1.22" />
<line x1="203.6" y1="357.7" x2="344.7" y2="357.7" stroke="#1c1c1c" stroke-width="1.22" />
<line x1="240.0" y1="349.6" x2="240.0" y2="356.0" stroke="#1c1c1c" stroke-width="1.22" />
<line x1="242.4" y1="349.6" x2="242.4" y2="356.0" stroke="#1c1c1c" stroke-width="1.22" />
<line x1="274.0" y1="349.6" x2="274.0" y2="356.0" stroke="#1c1c1c" stroke-width="1.22" />
<line x1="276.4" y1="349.6" x2="276.4" y2="356.0" stroke="#1c1c1c" stroke-width="1.22" />
<line x1="308.0" y1="349.6" x2="308.0" y2="356.0" stroke="#1c1c1c" stroke-width="1.22" />
<line x1="310.6" y1="349.6" x2="310.6" y2="356.0" stroke="#1c1c1c" stroke-width="1.22" />
<path d="M264,322.6 H268.5 M273.5,322.6 H278" stroke="#222" stroke-width="2.43" fill="none" />
<ellipse cx="271" cy="322.6" rx="2.6" ry="1.9" fill="#fff" stroke="#222" stroke-width="1"/>
<line x1="203.6" y1="365.7" x2="344.7" y2="365.7" stroke="#1c1c1c" stroke-width="1.22" />
<rect x="211.6" y="363.0" width="118.4" height="1.3" fill="#444"/>
<rect x="226.8" y="359.0" width="4.4" height="6.3" fill="#222"/>
<rect x="228.0" y="360.0" width="2.0" height="1.5" fill="#aaa"/>
<rect x="251.4" y="359.0" width="4.4" height="6.3" fill="#222"/>
<rect x="252.6" y="360.0" width="2.0" height="1.5" fill="#aaa"/>
<rect x="276.4" y="359.0" width="4.4" height="6.3" fill="#222"/>
<rect x="277.6" y="360.0" width="2.0" height="1.5" fill="#aaa"/>
<rect x="300.4" y="359.0" width="4.4" height="6.3" fill="#222"/>
<rect x="301.6" y="360.0" width="2.0" height="1.5" fill="#aaa"/>
<rect x="268.0" y="364.5" width="13.0" height="1.5" fill="#555"/>
<rect x="217.0" y="371.6" width="117.0" height="2.4" fill="#1a1a1a"/>
<rect x="219.4" y="368.6" width="5.2" height="8.0" fill="#1a1a1a"/>
<circle cx="222.0" cy="372.6" r="1.0" stroke="#999" stroke-width="0.81" fill="none"/>
<rect x="217.0" y="371.2" width="2.4" height="3.2" fill="#1a1a1a"/>
<rect x="224.6" y="371.2" width="2.4" height="3.2" fill="#1a1a1a"/>
<rect x="324.4" y="368.6" width="5.2" height="8.0" fill="#1a1a1a"/>
<circle cx="327.0" cy="372.6" r="1.0" stroke="#999" stroke-width="0.81" fill="none"/>
<rect x="322.0" y="371.2" width="2.4" height="3.2" fill="#1a1a1a"/>
<rect x="329.6" y="371.2" width="2.4" height="3.2" fill="#1a1a1a"/>
<line x1="244.0" y1="365.7" x2="244.0" y2="371.6" stroke="#1c1c1c" stroke-width="1.22" />
<line x1="246.3" y1="365.7" x2="246.3" y2="371.6" stroke="#1c1c1c" stroke-width="1.22" />
<line x1="305.0" y1="365.7" x2="305.0" y2="371.6" stroke="#1c1c1c" stroke-width="1.22" />
<line x1="307.3" y1="365.7" x2="307.3" y2="371.6" stroke="#1c1c1c" stroke-width="1.22" />
<rect x="274.4" y="366.5" width="2.0" height="7.1" fill="#e01818"/>
<line x1="210.0" y1="381.0" x2="339.0" y2="381.0" stroke="#1c1c1c" stroke-width="1.22" />
<line x1="210.0" y1="382.4" x2="339.0" y2="382.4" stroke="#555" stroke-width="1.08" />
<line x1="203.6" y1="383.6" x2="344.7" y2="383.6" stroke="#1c1c1c" stroke-width="1.22" />
<path d="M203.6,376 L210,381 M203.6,378.5 L208,382.4" stroke="#1c1c1c" stroke-width="1.08" fill="none" />
<path d="M344.7,376 L339,381 M344.7,378.5 L340.5,382.4" stroke="#1c1c1c" stroke-width="1.08" fill="none" />
<line x1="201.0" y1="386.0" x2="201.0" y2="403.5" stroke="#444" stroke-width="1.08" />
<line x1="347.4" y1="386.0" x2="347.4" y2="403.5" stroke="#444" stroke-width="1.08" />
<line x1="201.0" y1="402.2" x2="347.4" y2="402.2" stroke="#333" stroke-width="1.22" />
<text x="274.3" y="402.6" font-family="&quot;Liberation Sans&quot;, sans-serif" font-size="11" text-anchor="middle" fill="#262626" font-weight="normal" font-style="normal" textLength="26.2" lengthAdjust="spacingAndGlyphs" >2074</text>
<line x1="347.4" y1="300.2" x2="360.2" y2="300.2" stroke="#444" stroke-width="1.08" />
<line x1="347.4" y1="386.0" x2="360.2" y2="386.0" stroke="#888" stroke-width="0.81" />
<line x1="360.2" y1="297.7" x2="360.2" y2="430.0" stroke="#333" stroke-width="1.22" />
<text transform="translate(360.0,337.5) rotate(-90)" font-family="&quot;Liberation Sans&quot;, sans-serif" font-size="11" text-anchor="middle" fill="#333" textLength="24.5" lengthAdjust="spacingAndGlyphs">1304</text>
<line x1="47.6" y1="366.4" x2="47.6" y2="498.0" stroke="#1c1c1c" stroke-width="1.22" />
<line x1="47.6" y1="429.7" x2="360.2" y2="429.7" stroke="#333" stroke-width="1.22" />
<text x="118.0" y="430.1" font-family="&quot;Liberation Sans&quot;, sans-serif" font-size="11" text-anchor="middle" fill="#262626" font-weight="normal" font-style="normal" textLength="26.2" lengthAdjust="spacingAndGlyphs" >2000</text>
<text x="274.3" y="430.1" font-family="&quot;Liberation Sans&quot;, sans-serif" font-size="11" text-anchor="middle" fill="#262626" font-weight="normal" font-style="normal" textLength="26.2" lengthAdjust="spacingAndGlyphs" >2440</text>
<line x1="395.6" y1="375.7" x2="395.6" y2="401.5" stroke="#1c1c1c" stroke-width="1.22" />
<line x1="465.6" y1="366.4" x2="465.6" y2="401.5" stroke="#1c1c1c" stroke-width="1.22" />
<line x1="501.0" y1="375.7" x2="501.0" y2="401.5" stroke="#1c1c1c" stroke-width="1.22" />
<line x1="360.2" y1="400.6" x2="641.0" y2="400.6" stroke="#333" stroke-width="1.22" />
<text x="377.7" y="401.0" font-family="&quot;Liberation Sans&quot;, sans-serif" font-size="11" text-anchor="middle" fill="#262626" font-weight="normal" font-style="normal" textLength="19.6" lengthAdjust="spacingAndGlyphs" >500</text>
<text x="430.5" y="401.0" font-family="&quot;Liberation Sans&quot;, sans-serif" font-size="11" text-anchor="middle" fill="#262626" font-weight="normal" font-style="normal" textLength="26.2" lengthAdjust="spacingAndGlyphs" >1000</text>
<text x="484.5" y="401.0" font-family="&quot;Liberation Sans&quot;, sans-serif" font-size="11" text-anchor="middle" fill="#262626" font-weight="normal" font-style="normal" textLength="19.6" lengthAdjust="spacingAndGlyphs" >500</text>
<text x="572.0" y="401.0" font-family="&quot;Liberation Sans&quot;, sans-serif" font-size="11" text-anchor="middle" fill="#262626" font-weight="normal" font-style="normal" textLength="26.2" lengthAdjust="spacingAndGlyphs" >2000</text>
<line x1="47.6" y1="497.6" x2="939.0" y2="497.6" stroke="#222" stroke-width="1.35" />
<text x="493.0" y="498.0" font-family="&quot;Liberation Sans&quot;, sans-serif" font-size="11" text-anchor="middle" fill="#262626" font-weight="normal" font-style="normal" textLength="32.8" lengthAdjust="spacingAndGlyphs" >12640</text>
<line x1="939.0" y1="403.6" x2="939.0" y2="498.0" stroke="#1c1c1c" stroke-width="1.22" />
<rect x="561.0" y="343.0" width="49.5" height="47.4" stroke="#1c1c1c" stroke-width="1.35" fill="none"/>
<rect x="500.8" y="366.4" width="141.4" height="10.1" fill="#fff"/>
<rect x="500.8" y="366.4" width="141.4" height="2.5" fill="#4a4a4a"/>
<rect x="500.8" y="374.2" width="141.4" height="2.3" fill="#4a4a4a"/>
<line x1="500.8" y1="366.4" x2="500.8" y2="376.5" stroke="#1c1c1c" stroke-width="1.35" />
<rect x="505.4" y="369.7" width="28.8" height="3.8" stroke="#111" stroke-width="1.08" fill="#fff" rx="1"/>
<rect x="507.4" y="370.4" width="3.5" height="2.4" fill="#222"/>
<rect x="528.7" y="370.4" width="3.5" height="2.4" fill="#222"/>
<rect x="514.4" y="370.4" width="1.6" height="2.4" fill="#333"/>
<rect x="523.6" y="370.4" width="1.6" height="2.4" fill="#333"/>
<rect x="543.0" y="369.7" width="32.0" height="3.8" stroke="#111" stroke-width="1.08" fill="#fff" rx="1"/>
<rect x="545.0" y="370.4" width="3.5" height="2.4" fill="#222"/>
<rect x="569.5" y="370.4" width="3.5" height="2.4" fill="#222"/>
<rect x="552.0" y="370.4" width="1.6" height="2.4" fill="#333"/>
<rect x="564.4" y="370.4" width="1.6" height="2.4" fill="#333"/>
<rect x="597.4" y="369.7" width="40.8" height="3.8" stroke="#111" stroke-width="1.08" fill="#fff" rx="1"/>
<rect x="599.4" y="370.4" width="3.5" height="2.4" fill="#222"/>
<rect x="632.7" y="370.4" width="3.5" height="2.4" fill="#222"/>
<rect x="606.4" y="370.4" width="1.6" height="2.4" fill="#333"/>
<rect x="627.6" y="370.4" width="1.6" height="2.4" fill="#333"/>
<rect x="576.5" y="369.2" width="20.9" height="4.8" fill="#3a3a3a"/>
<circle cx="582.2" cy="371.6" r="2.6" stroke="#111" stroke-width="1.22" fill="#fff"/>
<circle cx="591.5" cy="371.6" r="2.6" stroke="#111" stroke-width="1.22" fill="#fff"/>
<rect x="539.4" y="288.4" width="35.6" height="34.6" stroke="#1c1c1c" stroke-width="1.35" fill="none"/>
<circle cx="557.4" cy="306.0" r="20.0" stroke="#111" stroke-width="1.62" fill="#fff"/>
<circle cx="557.4" cy="306.0" r="18.3" stroke="#1c1c1c" stroke-width="1.22" fill="none"/>
<circle cx="557.4" cy="306.0" r="14.5" stroke="#1c1c1c" stroke-width="1.49" fill="none"/>
<rect x="536.3" y="306.0" width="3.8" height="62.0" fill="#2a2a2a"/>
<line x1="538.2" y1="308.0" x2="538.2" y2="367.0" stroke="#ccc" stroke-width="0.61" />
<rect x="530.2" y="376.0" width="13.6" height="2.4" fill="#333"/>
<rect x="535.0" y="366.0" width="7.0" height="3.5" fill="#333"/>
<path d="M575,366.4 V359 L579.8,347.7 H593 L597,359 V366.4" stroke="#111" stroke-width="1.49" fill="#fff" />
<line x1="575.0" y1="359.0" x2="597.0" y2="359.0" stroke="#1c1c1c" stroke-width="1.22" />
<path d="M577.5,359 L581.5,351 H591 L594.8,359" stroke="#333" stroke-width="0.94" fill="none" />
<circle cx="585.7" cy="354.7" r="3.2" stroke="#111" stroke-width="1.35" fill="#ccc"/>
<circle cx="585.7" cy="354.7" r="1.4" stroke="#111" stroke-width="0.00" fill="#222"/>
<rect x="608.6" y="346.7" width="17.9" height="3.5" stroke="#1c1c1c" stroke-width="1.22" fill="#fff"/>
<rect x="608.6" y="351.0" width="17.9" height="3.4" stroke="#1c1c1c" stroke-width="1.22" fill="#fff"/>
<rect x="633.4" y="354.7" width="6.4" height="9.3" stroke="#1c1c1c" stroke-width="1.35" fill="#fff" rx="1.2"/>
<rect x="518.2" y="361.8" width="3.2" height="4.6" fill="#555"/>
<rect x="519.0" y="359.8" width="1.6" height="2.0" fill="#444"/>
<rect x="518.2" y="376.5" width="3.2" height="4.6" fill="#555"/>
<line x1="518.2" y1="364.0" x2="521.4" y2="364.0" stroke="#ddd" stroke-width="0.54" />
<line x1="518.2" y1="378.9" x2="521.4" y2="378.9" stroke="#ddd" stroke-width="0.54" />
<rect x="570.0" y="361.8" width="3.2" height="4.6" fill="#555"/>
<rect x="570.8" y="359.8" width="1.6" height="2.0" fill="#444"/>
<rect x="570.0" y="376.5" width="3.2" height="4.6" fill="#555"/>
<line x1="570.0" y1="364.0" x2="573.2" y2="364.0" stroke="#ddd" stroke-width="0.54" />
<line x1="570.0" y1="378.9" x2="573.2" y2="378.9" stroke="#ddd" stroke-width="0.54" />
<rect x="621.6" y="361.8" width="3.2" height="4.6" fill="#555"/>
<rect x="622.4" y="359.8" width="1.6" height="2.0" fill="#444"/>
<rect x="621.6" y="376.5" width="3.2" height="4.6" fill="#555"/>
<line x1="621.6" y1="364.0" x2="624.8" y2="364.0" stroke="#ddd" stroke-width="0.54" />
<line x1="621.6" y1="378.9" x2="624.8" y2="378.9" stroke="#ddd" stroke-width="0.54" />
<line x1="642.4" y1="376.0" x2="642.4" y2="441.5" stroke="#1c1c1c" stroke-width="1.35" />
<path d="M665,311.5 H788.5 V432.4 H665" stroke="#1c1c1c" stroke-width="1.35" fill="none" />
<rect x="673.4" y="320.0" width="91.0" height="104.6" stroke="#1c1c1c" stroke-width="1.35" fill="none"/>
<g>
<path d="M661,327 L664.3,314.8 M663.6,328.5 L666.6,316" stroke="#1c1c1c" stroke-width="1.08" fill="none" />
<path d="M666.9,312.2 L707.2,329.7 M665,315.4 L698.8,333.6" stroke="#1c1c1c" stroke-width="1.22" fill="none" />
<circle cx="665.0" cy="313.5" r="1.4" stroke="#1c1c1c" stroke-width="1.08" fill="#ddd"/>
<line x1="669.5" y1="335.6" x2="696.8" y2="337.5" stroke="#1c1c1c" stroke-width="1.08" />
<line x1="671.0" y1="341.5" x2="691.0" y2="338.8" stroke="#555" stroke-width="0.94" />
<path d="M691.0,338.2 L704.6,329.7 L719.6,332.3 L713.7,362.2 L686.4,355.7 Z" stroke="#1c1c1c" stroke-width="1.22" fill="none" />
<path d="M715.6,337.5 L713.3,350 M701.5,352.5 L716,358.5" stroke="#1c1c1c" stroke-width="1.08" fill="none" />
<circle cx="700.0" cy="336.2" r="3.1" stroke="#222" stroke-width="1.08" fill="#c4c4c4"/>
<circle cx="700.0" cy="336.2" r="1.6" stroke="#555" stroke-width="0.81" fill="#aaa"/>
<circle cx="713.3" cy="335.6" r="3.1" stroke="#222" stroke-width="1.08" fill="#c4c4c4"/>
<circle cx="713.3" cy="335.6" r="1.6" stroke="#555" stroke-width="0.81" fill="#aaa"/>
<circle cx="692.9" cy="349.9" r="3.0" stroke="#222" stroke-width="1.08" fill="#c4c4c4"/>
<circle cx="692.9" cy="349.9" r="1.5" stroke="#555" stroke-width="0.81" fill="#aaa"/>
<circle cx="711.1" cy="351.8" r="3.0" stroke="#222" stroke-width="1.08" fill="#c4c4c4"/>
<circle cx="711.1" cy="351.8" r="1.5" stroke="#555" stroke-width="0.81" fill="#aaa"/>
<circle cx="718.3" cy="357.7" r="2.7" stroke="#222" stroke-width="1.08" fill="#c4c4c4"/>
<circle cx="718.3" cy="357.7" r="1.4" stroke="#555" stroke-width="0.81" fill="#aaa"/>
<path d="M697.5,353.5 L701.5,348 M699.4,355.8 L699.4,351" stroke="#777" stroke-width="2.16" fill="none" />
<circle cx="699.4" cy="351.2" r="1.7" stroke="#1c1c1c" stroke-width="0.00" fill="#777"/>
<path d="M720.5,357 L733.4,365.8 M721.5,359.6 L731,366" stroke="#222" stroke-width="1.08" fill="none" stroke-dasharray="3.2 1.2"/>
<circle cx="666.5" cy="338.8" r="12.7" stroke="#1c1c1c" stroke-width="1.35" fill="#fff"/>
<circle cx="666.5" cy="338.8" r="3.7" stroke="#1c1c1c" stroke-width="0.00" fill="#111"/>
<circle cx="666.5" cy="330.3" r="1.7" stroke="#1c1c1c" stroke-width="1.08" fill="none"/>
<circle cx="666.5" cy="347.3" r="1.7" stroke="#1c1c1c" stroke-width="1.08" fill="none"/>
<circle cx="658.0" cy="338.8" r="1.7" stroke="#1c1c1c" stroke-width="1.08" fill="none"/>
<circle cx="675.0" cy="338.8" r="1.7" stroke="#1c1c1c" stroke-width="1.08" fill="none"/>
</g>
<g transform="translate(0,744.6) scale(1,-1)">
<path d="M661,327 L664.3,314.8 M663.6,328.5 L666.6,316" stroke="#1c1c1c" stroke-width="1.08" fill="none" />
<path d="M666.9,312.2 L707.2,329.7 M665,315.4 L698.8,333.6" stroke="#1c1c1c" stroke-width="1.22" fill="none" />
<circle cx="665.0" cy="313.5" r="1.4" stroke="#1c1c1c" stroke-width="1.08" fill="#ddd"/>
<line x1="669.5" y1="335.6" x2="696.8" y2="337.5" stroke="#1c1c1c" stroke-width="1.08" />
<line x1="671.0" y1="341.5" x2="691.0" y2="338.8" stroke="#555" stroke-width="0.94" />
<path d="M691.0,338.2 L704.6,329.7 L719.6,332.3 L713.7,362.2 L686.4,355.7 Z" stroke="#1c1c1c" stroke-width="1.22" fill="none" />
<path d="M715.6,337.5 L713.3,350 M701.5,352.5 L716,358.5" stroke="#1c1c1c" stroke-width="1.08" fill="none" />
<circle cx="700.0" cy="336.2" r="3.1" stroke="#222" stroke-width="1.08" fill="#c4c4c4"/>
<circle cx="700.0" cy="336.2" r="1.6" stroke="#555" stroke-width="0.81" fill="#aaa"/>
<circle cx="713.3" cy="335.6" r="3.1" stroke="#222" stroke-width="1.08" fill="#c4c4c4"/>
<circle cx="713.3" cy="335.6" r="1.6" stroke="#555" stroke-width="0.81" fill="#aaa"/>
<circle cx="692.9" cy="349.9" r="3.0" stroke="#222" stroke-width="1.08" fill="#c4c4c4"/>
<circle cx="692.9" cy="349.9" r="1.5" stroke="#555" stroke-width="0.81" fill="#aaa"/>
<circle cx="711.1" cy="351.8" r="3.0" stroke="#222" stroke-width="1.08" fill="#c4c4c4"/>
<circle cx="711.1" cy="351.8" r="1.5" stroke="#555" stroke-width="0.81" fill="#aaa"/>
<circle cx="718.3" cy="357.7" r="2.7" stroke="#222" stroke-width="1.08" fill="#c4c4c4"/>
<circle cx="718.3" cy="357.7" r="1.4" stroke="#555" stroke-width="0.81" fill="#aaa"/>
<path d="M697.5,353.5 L701.5,348 M699.4,355.8 L699.4,351" stroke="#777" stroke-width="2.16" fill="none" />
<circle cx="699.4" cy="351.2" r="1.7" stroke="#1c1c1c" stroke-width="0.00" fill="#777"/>
<path d="M720.5,357 L733.4,365.8 M721.5,359.6 L731,366" stroke="#222" stroke-width="1.08" fill="none" stroke-dasharray="3.2 1.2"/>
<circle cx="666.5" cy="338.8" r="12.7" stroke="#1c1c1c" stroke-width="1.35" fill="#fff"/>
<circle cx="666.5" cy="338.8" r="3.7" stroke="#1c1c1c" stroke-width="0.00" fill="#111"/>
<circle cx="666.5" cy="330.3" r="1.7" stroke="#1c1c1c" stroke-width="1.08" fill="none"/>
<circle cx="666.5" cy="347.3" r="1.7" stroke="#1c1c1c" stroke-width="1.08" fill="none"/>
<circle cx="658.0" cy="338.8" r="1.7" stroke="#1c1c1c" stroke-width="1.08" fill="none"/>
<circle cx="675.0" cy="338.8" r="1.7" stroke="#1c1c1c" stroke-width="1.08" fill="none"/>
</g>
<rect x="642.4" y="367.2" width="155.1" height="10.1" fill="#fff"/>
<path d="M645.00,368.0 q2.6,2.13 0,4.25 q2.6,2.13 0,4.25 M649.40,368.0 q2.6,2.13 0,4.25 q2.6,2.13 0,4.25 M653.80,368.0 q2.6,2.13 0,4.25 q2.6,2.13 0,4.25 M658.20,368.0 q2.6,2.13 0,4.25 q2.6,2.13 0,4.25 M662.60,368.0 q2.6,2.13 0,4.25 q2.6,2.13 0,4.25 M667.00,368.0 q2.6,2.13 0,4.25 q2.6,2.13 0,4.25 M671.40,368.0 q2.6,2.13 0,4.25 q2.6,2.13 0,4.25 M675.80,368.0 q2.6,2.13 0,4.25 q2.6,2.13 0,4.25 M680.20,368.0 q2.6,2.13 0,4.25 q2.6,2.13 0,4.25 M684.60,368.0 q2.6,2.13 0,4.25 q2.6,2.13 0,4.25 M689.00,368.0 q2.6,2.13 0,4.25 q2.6,2.13 0,4.25 M693.40,368.0 q2.6,2.13 0,4.25 q2.6,2.13 0,4.25 M697.80,368.0 q2.6,2.13 0,4.25 q2.6,2.13 0,4.25 M702.20,368.0 q2.6,2.13 0,4.25 q2.6,2.13 0,4.25 M706.60,368.0 q2.6,2.13 0,4.25 q2.6,2.13 0,4.25 M711.00,368.0 q2.6,2.13 0,4.25 q2.6,2.13 0,4.25 M715.40,368.0 q2.6,2.13 0,4.25 q2.6,2.13 0,4.25 M719.80,368.0 q2.6,2.13 0,4.25 q2.6,2.13 0,4.25 M724.20,368.0 q2.6,2.13 0,4.25 q2.6,2.13 0,4.25 M728.60,368.0 q2.6,2.13 0,4.25 q2.6,2.13 0,4.25 M733.00,368.0 q2.6,2.13 0,4.25 q2.6,2.13 0,4.25 M737.40,368.0 q2.6,2.13 0,4.25 q2.6,2.13 0,4.25 M741.80,368.0 q2.6,2.13 0,4.25 q2.6,2.13 0,4.25 M746.20,368.0 q2.6,2.13 0,4.25 q2.6,2.13 0,4.25 M750.60,368.0 q2.6,2.13 0,4.25 q2.6,2.13 0,4.25 M755.00,368.0 q2.6,2.13 0,4.25 q2.6,2.13 0,4.25 M759.40,368.0 q2.6,2.13 0,4.25 q2.6,2.13 0,4.25 M763.80,368.0 q2.6,2.13 0,4.25 q2.6,2.13 0,4.25 M768.20,368.0 q2.6,2.13 0,4.25 q2.6,2.13 0,4.25 M772.60,368.0 q2.6,2.13 0,4.25 q2.6,2.13 0,4.25 M777.00,368.0 q2.6,2.13 0,4.25 q2.6,2.13 0,4.25 M781.40,368.0 q2.6,2.13 0,4.25 q2.6,2.13 0,4.25 M785.80,368.0 q2.6,2.13 0,4.25 q2.6,2.13 0,4.25 M790.20,368.0 q2.6,2.13 0,4.25 q2.6,2.13 0,4.25 M794.60,368.0 q2.6,2.13 0,4.25 q2.6,2.13 0,4.25" stroke="#3a3a3a" stroke-width="1.05" fill="none"/>
<line x1="642.4" y1="367.5" x2="797.5" y2="367.5" stroke="#1c1c1c" stroke-width="1.42" />
<line x1="642.4" y1="377.2" x2="797.5" y2="377.2" stroke="#1c1c1c" stroke-width="1.42" />
<rect x="643.0" y="368.0" width="19.0" height="8.6" fill="#fff"/>
<path d="M643,368.4 H648 A4,3.9 0 0 1 648,376.2 H643" stroke="#1c1c1c" stroke-width="1.35" fill="none" />
<rect x="789.0" y="368.0" width="8.5" height="8.6" fill="#fff"/>
<circle cx="792.5" cy="372.3" r="3.6" stroke="#1c1c1c" stroke-width="1.35" fill="none"/>
<line x1="642.4" y1="367.2" x2="642.4" y2="377.3" stroke="#1c1c1c" stroke-width="1.35" />
<rect x="734.6" y="360.6" width="38.2" height="6.8" stroke="#111" stroke-width="1.76" fill="#fff" rx="3.4"/>
<circle cx="737.5" cy="363.7" r="0.9" stroke="#1c1c1c" stroke-width="0.00" fill="#222"/>
<circle cx="769.0" cy="363.7" r="0.9" stroke="#1c1c1c" stroke-width="0.00" fill="#222"/>
<rect x="735.2" y="377.3" width="36.8" height="2.5" stroke="#1c1c1c" stroke-width="1.35" fill="none"/>
<rect x="742.0" y="382.3" width="22.3" height="1.9" fill="#222"/>
<rect x="743.5" y="385.0" width="19.5" height="2.0" fill="#333"/>
<rect x="742.0" y="388.0" width="22.3" height="3.3" fill="#222"/>
<line x1="747.0" y1="379.8" x2="747.0" y2="391.0" stroke="#1c1c1c" stroke-width="1.35" />
<line x1="759.0" y1="379.8" x2="759.0" y2="391.0" stroke="#1c1c1c" stroke-width="1.35" />
<rect x="751.0" y="391.0" width="5.0" height="3.0" fill="#333"/>
<rect x="739.7" y="331.7" width="24.7" height="13.6" stroke="#1c1c1c" stroke-width="1.35" fill="none"/>
<path d="M754.4,333.8 L750.8,339.1 H754.2 L751.4,343.4" stroke="#111" stroke-width="1.62" fill="none" />
<path d="M663.2,367.8 L663.7,365.0 L664.4,364.2 V360.6 L665.9,359.4 V357.2 H668.1 V359.4 L669.6,360.6 V364.2 L670.3,365.0 L670.8,367.8 Z" fill="#111"/>
<path d="M663.2,376.7 L663.7,379.5 L664.4,380.3 V383.9 L665.9,385.1 V387.3 H668.1 V385.1 L669.6,383.9 V380.3 L670.3,379.5 L670.8,376.7 Z" fill="#111"/>
<path d="M781.8,367.8 L782.3,365.0 L783.0,364.2 V360.6 L784.5,359.4 V357.2 H786.7 V359.4 L788.2,360.6 V364.2 L788.9,365.0 L789.4,367.8 Z" fill="#111"/>
<path d="M781.8,376.7 L782.3,379.5 L783.0,380.3 V383.9 L784.5,385.1 V387.3 H786.7 V385.1 L788.2,383.9 V380.3 L788.9,379.5 L789.4,376.7 Z" fill="#111"/>
<line x1="642.4" y1="441.0" x2="797.6" y2="441.0" stroke="#333" stroke-width="1.22" />
<text x="720.7" y="441.4" font-family="&quot;Liberation Sans&quot;, sans-serif" font-size="11" text-anchor="middle" fill="#262626" font-weight="normal" font-style="normal" textLength="26.2" lengthAdjust="spacingAndGlyphs" >2200</text>
<line x1="797.6" y1="403.6" x2="797.6" y2="441.5" stroke="#1c1c1c" stroke-width="1.22" />
<path d="M799.60,340.4 V403.6 M803.31,340.4 V403.6 M807.03,340.4 V403.6 M810.74,340.4 V403.6 M814.45,340.4 V403.6 M818.17,340.4 V403.6 M821.88,340.4 V403.6 M825.59,340.4 V403.6 M829.31,340.4 V403.6 M833.02,340.4 V403.6 M836.74,340.4 V403.6 M840.45,340.4 V403.6 M844.16,340.4 V403.6 M847.88,340.4 V403.6 M851.59,340.4 V403.6 M855.30,340.4 V403.6 M859.02,340.4 V403.6 M862.73,340.4 V403.6 M866.44,340.4 V403.6 M870.16,340.4 V403.6 M873.87,340.4 V403.6 M877.58,340.4 V403.6 M881.30,340.4 V403.6 M885.01,340.4 V403.6 M888.72,340.4 V403.6 M892.44,340.4 V403.6 M896.15,340.4 V403.6 M899.86,340.4 V403.6 M903.58,340.4 V403.6 M907.29,340.4 V403.6 M911.01,340.4 V403.6 M914.72,340.4 V403.6 M918.43,340.4 V403.6 M922.15,340.4 V403.6 M925.86,340.4 V403.6 M929.57,340.4 V403.6 M933.29,340.4 V403.6 M937.00,340.4 V403.6" stroke="#161616" stroke-width="2.25" fill="none"/>
<line x1="797.6" y1="340.3" x2="939.0" y2="340.3" stroke="#1c1c1c" stroke-width="1.22" />
<line x1="797.6" y1="403.6" x2="939.0" y2="403.6" stroke="#1c1c1c" stroke-width="1.08" />
<line x1="797.6" y1="340.3" x2="797.6" y2="403.6" stroke="#1c1c1c" stroke-width="1.22" />
<rect x="798.1" y="367.7" width="140.5" height="9.1" fill="#fff"/>
<path d="M800.70,368.5 q2.6,1.88 0,3.75 q2.6,1.88 0,3.75 M805.10,368.5 q2.6,1.88 0,3.75 q2.6,1.88 0,3.75 M809.50,368.5 q2.6,1.88 0,3.75 q2.6,1.88 0,3.75 M813.90,368.5 q2.6,1.88 0,3.75 q2.6,1.88 0,3.75 M818.30,368.5 q2.6,1.88 0,3.75 q2.6,1.88 0,3.75 M822.70,368.5 q2.6,1.88 0,3.75 q2.6,1.88 0,3.75 M827.10,368.5 q2.6,1.88 0,3.75 q2.6,1.88 0,3.75 M831.50,368.5 q2.6,1.88 0,3.75 q2.6,1.88 0,3.75 M835.90,368.5 q2.6,1.88 0,3.75 q2.6,1.88 0,3.75 M840.30,368.5 q2.6,1.88 0,3.75 q2.6,1.88 0,3.75 M844.70,368.5 q2.6,1.88 0,3.75 q2.6,1.88 0,3.75 M849.10,368.5 q2.6,1.88 0,3.75 q2.6,1.88 0,3.75 M853.50,368.5 q2.6,1.88 0,3.75 q2.6,1.88 0,3.75 M857.90,368.5 q2.6,1.88 0,3.75 q2.6,1.88 0,3.75 M862.30,368.5 q2.6,1.88 0,3.75 q2.6,1.88 0,3.75 M866.70,368.5 q2.6,1.88 0,3.75 q2.6,1.88 0,3.75 M871.10,368.5 q2.6,1.88 0,3.75 q2.6,1.88 0,3.75 M875.50,368.5 q2.6,1.88 0,3.75 q2.6,1.88 0,3.75 M879.90,368.5 q2.6,1.88 0,3.75 q2.6,1.88 0,3.75 M884.30,368.5 q2.6,1.88 0,3.75 q2.6,1.88 0,3.75 M888.70,368.5 q2.6,1.88 0,3.75 q2.6,1.88 0,3.75 M893.10,368.5 q2.6,1.88 0,3.75 q2.6,1.88 0,3.75 M897.50,368.5 q2.6,1.88 0,3.75 q2.6,1.88 0,3.75 M901.90,368.5 q2.6,1.88 0,3.75 q2.6,1.88 0,3.75 M906.30,368.5 q2.6,1.88 0,3.75 q2.6,1.88 0,3.75 M910.70,368.5 q2.6,1.88 0,3.75 q2.6,1.88 0,3.75 M915.10,368.5 q2.6,1.88 0,3.75 q2.6,1.88 0,3.75 M919.50,368.5 q2.6,1.88 0,3.75 q2.6,1.88 0,3.75 M923.90,368.5 q2.6,1.88 0,3.75 q2.6,1.88 0,3.75 M928.30,368.5 q2.6,1.88 0,3.75 q2.6,1.88 0,3.75 M932.70,368.5 q2.6,1.88 0,3.75 q2.6,1.88 0,3.75 M937.10,368.5 q2.6,1.88 0,3.75 q2.6,1.88 0,3.75" stroke="#555" stroke-width="1.05" fill="none"/>
<line x1="797.6" y1="367.7" x2="939.0" y2="367.7" stroke="#1c1c1c" stroke-width="1.08" />
<line x1="797.6" y1="376.8" x2="939.0" y2="376.8" stroke="#1c1c1c" stroke-width="1.08" />
<rect x="929.5" y="368.4" width="8.9" height="7.8" fill="#fff"/>
<line x1="934.3" y1="368.2" x2="934.3" y2="376.6" stroke="#e01818" stroke-width="1.49" />
<path d="M934.3,368.4 A3.6,4 0 0 0 934.3,376.4" stroke="#1c1c1c" stroke-width="1.08" fill="none" />
<line x1="939.0" y1="340.3" x2="939.0" y2="403.6" stroke="#1c1c1c" stroke-width="1.35" />
<line x1="939.0" y1="340.3" x2="954.0" y2="340.3" stroke="#444" stroke-width="0.81" />
<line x1="939.0" y1="367.8" x2="954.0" y2="367.8" stroke="#444" stroke-width="0.81" />
<line x1="953.1" y1="340.3" x2="953.1" y2="367.8" stroke="#333" stroke-width="0.81" />
<text transform="translate(952.0,354.1) rotate(-90)" font-family="&quot;Liberation Sans&quot;, sans-serif" font-size="6" text-anchor="middle" fill="#333" textLength="10.5" lengthAdjust="spacingAndGlyphs">400</text>
<line x1="939.0" y1="376.6" x2="954.0" y2="376.6" stroke="#444" stroke-width="0.81" />
<line x1="939.0" y1="403.7" x2="954.0" y2="403.7" stroke="#444" stroke-width="0.81" />
<line x1="953.1" y1="376.6" x2="953.1" y2="403.7" stroke="#333" stroke-width="0.81" />
<text transform="translate(952.0,390.1) rotate(-90)" font-family="&quot;Liberation Sans&quot;, sans-serif" font-size="6" text-anchor="middle" fill="#333" textLength="10.5" lengthAdjust="spacingAndGlyphs">400</text>
<line x1="797.6" y1="440.6" x2="939.0" y2="440.6" stroke="#333" stroke-width="0.94" />
<text x="877.4" y="441.0" font-family="&quot;Liberation Sans&quot;, sans-serif" font-size="11" text-anchor="middle" fill="#262626" font-weight="normal" font-style="normal" textLength="26.2" lengthAdjust="spacingAndGlyphs" >2000</text>
<defs>
<linearGradient id="vg" x1="0" x2="1" y1="0" y2="0"><stop offset="0.50" stop-color="#d7182a"/><stop offset="0.50" stop-color="#1f4596"/></linearGradient>
</defs>
<linearGradient id="vg2" gradientUnits="userSpaceOnUse" x1="0" x2="30" y1="0" y2="0"><stop offset="0.52" stop-color="#d7182a"/><stop offset="0.52" stop-color="#1f4596"/></linearGradient>
<g font-family="&quot;Liberation Sans&quot;, sans-serif" font-weight="bold" font-size="42.2" stroke-linejoin="miter">
<text transform="translate(364.2,633.6) scale(1.22,1)" fill="url(#vg2)" stroke="url(#vg2)" stroke-width="2">V</text>
<text transform="translate(386.2,633.6) scale(1.6,1) skewX(-15.1)" fill="#1f4596" stroke="#1f4596" stroke-width="1.8">K</text>
<text transform="translate(435.2,633.6) scale(1.58,1) skewX(-15.1)" fill="#1f4596" stroke="#1f4596" stroke-width="1.8">P</text>
<text transform="translate(472.6,633.6) scale(1.25,1) skewX(-15.1)" fill="#1f4596" stroke="#1f4596" stroke-width="1.8">A</text>
<text transform="translate(508.8,633.6) scale(1.27,1) skewX(-15.1)" fill="#1f4596" stroke="#1f4596" stroke-width="1.8">K</text>
</g>
<path d="M479.3,634.6 L489.5,621.2 L489.5,634.6 Z" fill="#d7182a"/>
<text x="619.4" y="618.0" font-family="&quot;Liberation Sans&quot;, sans-serif" font-size="27.5" text-anchor="start" fill="#0a0a0a" font-weight="bold" font-style="normal" textLength="319.8" lengthAdjust="spacingAndGlyphs" >Shanghai BaZhou Industrial Co., Ltd.</text>
<text x="593.0" y="641.8" font-family="&quot;Liberation Sans&quot;, sans-serif" font-size="18.3" text-anchor="start" fill="#1b3a8c" font-weight="normal" font-style="normal" textLength="369.5" lengthAdjust="spacingAndGlyphs" stroke="#1b3a8c" stroke-width="0.35">One-Stop Liquid Bottle Filling Solution Manufacturer</text>
<text y="688.7" font-family="&quot;Liberation Sans&quot;, sans-serif" font-size="32.8" fill="#161616"><tspan x="402" textLength="162.5" lengthAdjust="spacingAndGlyphs">Automatic</tspan> <tspan x="574.5" textLength="147" lengthAdjust="spacingAndGlyphs">Herbicide</tspan> <tspan x="733.5" textLength="85" lengthAdjust="spacingAndGlyphs">Filling</tspan> <tspan x="830.5" textLength="65" lengthAdjust="spacingAndGlyphs">Line</tspan></text>
<defs>
<linearGradient id="gy1" x1="0" x2="1" y1="0" y2="0"><stop offset="0" stop-color="#c9b478"/><stop offset="0.3" stop-color="#dccb93"/><stop offset="0.7" stop-color="#d2bd7f"/><stop offset="1" stop-color="#b9a163"/></linearGradient>
<linearGradient id="gc1" x1="0" x2="1" y1="0" y2="0"><stop offset="0" stop-color="#c8cccc"/><stop offset="0.35" stop-color="#e6e9e8"/><stop offset="0.8" stop-color="#d3d7d7"/><stop offset="1" stop-color="#b9bebf"/></linearGradient>
<linearGradient id="gblu" x1="0" x2="1" y1="0" y2="0"><stop offset="0" stop-color="#2f7fc4"/><stop offset="0.4" stop-color="#55a4e0"/><stop offset="1" stop-color="#2f78bd"/></linearGradient>
<linearGradient id="gb2" x1="0" x2="1" y1="0" y2="0"><stop offset="0" stop-color="#9db0bf"/><stop offset="0.3" stop-color="#c3d0db"/><stop offset="0.55" stop-color="#b4c3d0"/><stop offset="1" stop-color="#93a6b6"/></linearGradient>
<linearGradient id="gb2d" x1="0" x2="1" y1="0" y2="0"><stop offset="0" stop-color="#4a5354"/><stop offset="0.4" stop-color="#636e6d"/><stop offset="1" stop-color="#434b4c"/></linearGradient>
<linearGradient id="gb3" x1="0" x2="1" y1="0" y2="0"><stop offset="0" stop-color="#3049a6"/><stop offset="0.35" stop-color="#5878d2"/><stop offset="0.7" stop-color="#4160bd"/><stop offset="1" stop-color="#2c4196"/></linearGradient>
<linearGradient id="gred" x1="0" x2="1" y1="0" y2="0"><stop offset="0" stop-color="#c4141c"/><stop offset="0.4" stop-color="#ee3a3a"/><stop offset="1" stop-color="#b81218"/></linearGradient>
<linearGradient id="gsp" x1="0" x2="1" y1="0" y2="0"><stop offset="0" stop-color="#d2d2e0"/><stop offset="0.4" stop-color="#ecebf3"/><stop offset="1" stop-color="#cdcddc"/></linearGradient>
<linearGradient id="gspl" x1="0" x2="1" y1="0" y2="0"><stop offset="0" stop-color="#a8689c"/><stop offset="0.4" stop-color="#c690bf"/><stop offset="1" stop-color="#a05f94"/></linearGradient>
<linearGradient id="gspd" x1="0" x2="1" y1="0" y2="0"><stop offset="0" stop-color="#a03258"/><stop offset="0.4" stop-color="#bd4d74"/><stop offset="1" stop-color="#942c50"/></linearGradient>
<linearGradient id="gcl" x1="0" x2="1" y1="0" y2="0"><stop offset="0" stop-color="#b9bfd2"/><stop offset="0.4" stop-color="#dfe3ee"/><stop offset="1" stop-color="#b4bacc"/></linearGradient>
<linearGradient id="gjc" x1="0" x2="1" y1="0" y2="0"><stop offset="0" stop-color="#cbdae8"/><stop offset="0.5" stop-color="#e4eef6"/><stop offset="1" stop-color="#cfdde9"/></linearGradient>
<linearGradient id="gjar" x1="0" x2="1" y1="0" y2="0"><stop offset="0" stop-color="#46557a"/><stop offset="0.4" stop-color="#64759c"/><stop offset="1" stop-color="#3d4a6c"/></linearGradient>
<linearGradient id="gtb" x1="0" x2="1" y1="0" y2="0"><stop offset="0" stop-color="#93b6dc"/><stop offset="0.4" stop-color="#c3d9f0"/><stop offset="1" stop-color="#8cb0d8"/></linearGradient>
<linearGradient id="gtbl" x1="0" x2="1" y1="0" y2="0"><stop offset="0" stop-color="#2468c6"/><stop offset="0.4" stop-color="#4b98ea"/><stop offset="1" stop-color="#2264be"/></linearGradient>
<linearGradient id="gdk" x1="0" x2="1" y1="0" y2="0"><stop offset="0" stop-color="#38405e"/><stop offset="0.4" stop-color="#566288"/><stop offset="1" stop-color="#343b58"/></linearGradient>
<linearGradient id="gwh" x1="0" x2="1" y1="0" y2="0"><stop offset="0" stop-color="#d8dade"/><stop offset="0.4" stop-color="#f6f7f8"/><stop offset="1" stop-color="#cfd2d6"/></linearGradient>
</defs>
<ellipse cx="190" cy="683" rx="138" ry="4" fill="#f0f0f2"/>
<path d="M100,536 C99,548 87.5,556 87.5,580 V674 Q87.5,677.5 92,677.5 H126 Q131,677.5 131,674 V580 C131,556 117,548 115.8,536 Z" fill="url(#gb2)" />
<path d="M95,633 H131 V674 Q131,677.5 126,677.5 H99 Q95,677.5 95,674 Z" fill="url(#gb2d)" />
<rect x="100.0" y="526.5" width="15.8" height="9.9" fill="url(#gwh)" rx="1.5" />
<g transform="rotate(0 107.2 615.8)">
<rect x="93.0" y="599.5" width="28.5" height="32.5" fill="#f7f7f7" />
<path d="M107.2,604.1 L118.9,615.8 L107.2,627.4 L95.6,615.8 Z" fill="#fff" stroke="#d8202a" stroke-width="1.7" stroke-linejoin="miter"/>
<path d="M107.2,609.8 a2,2 0 1 1 -0.1,0 M103.2,619.8 L104.8,613.8 H109.8 L111.2,619.8 Z" fill="#222"/><circle cx="107.2" cy="617.0" r="1" fill="#fff"/>
</g>
<path d="M190,585 Q190,575.5 198,575.5 H221 C227,575.5 228,566 234,565.5 H246 Q249,565.5 249,569 V640 H188.5 V600 Z" fill="url(#gjc)" />
<rect x="201.0" y="562.3" width="16.8" height="11.5" fill="url(#gred)" rx="2" />
<rect x="202.0" y="573.5" width="15.0" height="2.5" fill="#c9d8e4" />
<g transform="rotate(0 217.8 599.4)">
<rect x="199.6" y="584.7" width="36.4" height="29.3" fill="#f7f7f7" />
<path d="M217.8,587.3 L229.8,599.4 L217.8,611.4 L205.8,599.4 Z" fill="#fff" stroke="#d8202a" stroke-width="1.7" stroke-linejoin="miter"/>
<path d="M213.3,602.4 h4 l1,-3 l1.4,2 l2.6,-1.6 v2.6 Z M214.8,601.0 l1,-4.5" fill="#555" stroke="#555" stroke-width="0.8"/>
</g>
<path d="M161,570 H175.5 C176,580 178.5,590 178.5,600 V671 Q178.5,674.5 174,674.5 H146 Q142,674.5 142,671 V606 C142,596 160,588 161,570 Z" fill="url(#gsp)" />
<path d="M142.6,613 C152,615.5 170,615.5 178.5,613.5 V622 H142 Z" fill="url(#gspl)" />
<path d="M142,622 H178.5 V671 Q178.5,674.5 174,674.5 H146 Q142,674.5 142,671 Z" fill="url(#gspd)" />
<rect x="160.0" y="559.7" width="16.0" height="10.7" fill="url(#gred)" rx="1.5" />
<path d="M150.2,538 L153.5,531.8 L161.4,523.4 C163,522.6 164.7,522.6 166,523.2 L178.2,532.4 L181,536.8 L180.4,539 L173.7,544.7 L172.6,552.5 L174.8,560 H161.4 L162.5,552.5 L158,547 L151.9,543.5 Z" fill="#eceef2" />
<path d="M153.5,539 L167,541.2 L166.6,543 L153,541 Z" fill="#b9bcc4" />
<path d="M166,523.2 L178.2,532.4 L181,536.8 L180.4,539 L176,536 L164,525.5 Z" fill="#dfe2e8" />
<path d="M128.4,529.5 C128.2,527.6 129.5,526.8 131.5,527 L139.8,528.4 L149,520.8 C152,519.8 155,520 158,521.2 C161,522.4 162,524.4 161.4,526.2 L160.3,530.7 L153.5,532.4 L151.3,538 L149.6,551.4 L144,563.7 L140.7,571 C139,572.6 136,572.4 135,569.3 L138.5,558 L140.7,547 L139.6,539 L136.8,535.4 L130,534.2 C128.8,533.6 128.5,532 128.4,529.5 Z" fill="#dc2229" />
<path d="M141,530 L150,523 L152,525 L143.6,531.6 Z" fill="#ee4a48" />
<circle cx="154.7" cy="523.5" r="1.5" fill="#fff"/><circle cx="158.6" cy="529" r="1.3" fill="#fbe6e6"/>
<g transform="rotate(0 159.6 637.0)">
<rect x="147.7" y="622.0" width="23.8" height="30.0" fill="#f7f7f7" />
<path d="M159.6,627.7 L168.9,637.0 L159.6,646.3 L150.3,637.0 Z" fill="#fff" stroke="#d8202a" stroke-width="1.7" stroke-linejoin="miter"/>
<circle cx="159.6" cy="635.5" r="2.6" fill="#333"/><path d="M155.6,638.0 L163.6,642.0 M163.6,638.0 L155.6,642.0" stroke="#333" stroke-width="1.1"/>
</g>
<path d="M252.5,568 C251.5,579 244.2,584 243.8,597 V675 Q243.8,678.6 248,678.6 H274 Q278,678.6 278,675 V597 C277.6,584 269.6,579 268.6,568 Z" fill="url(#gtb)" />
<path d="M243.8,599 C252,601.5 270,601.5 278,599 V675 Q278,678.6 274,678.6 H248 Q243.8,678.6 243.8,675 Z" fill="url(#gtbl)" />
<rect x="252.0" y="558.0" width="17.0" height="11.2" fill="url(#gred)" rx="2" />
<g transform="rotate(0 258.8 627.1)">
<rect x="243.8" y="610.7" width="29.9" height="32.8" fill="#f7f7f7" />
<path d="M258.8,614.8 L271.1,627.1 L258.8,639.5 L246.4,627.1 Z" fill="#fff" stroke="#d8202a" stroke-width="1.7" stroke-linejoin="miter"/>
<path d="M254.8,631.1 H263.1 M255.2,623.7 l3,1 M257.4,626.1 v3 M259.8,629.1 c0,-3 3,-3 3.4,-1" stroke="#333" stroke-width="1.1" fill="none"/>
</g>
<path d="M284,606 C280,607 278,609 278,613 V674 Q278,678.5 283,678.5 H314.5 Q319.3,678.5 319.3,674 V613 C319.3,609 317,607 313.5,606 Z" fill="url(#gdk)" />
<rect x="284.0" y="592.3" width="29.7" height="14.3" fill="url(#gred)" rx="2.5" />
<g transform="rotate(1.5 295.4 647.6)">
<rect x="279.3" y="629.5" width="32.2" height="36.3" fill="#f7f7f7" />
<path d="M295.4,634.1 L308.9,647.6 L295.4,661.1 L281.9,647.6 Z" fill="#fff" stroke="#d8202a" stroke-width="1.7" stroke-linejoin="miter"/>
<circle cx="295.4" cy="649.2" r="2.6" fill="none" stroke="#222" stroke-width="1.1"/><path d="M295.4,642.2 C298.0,645.0 297.4,646.6 295.4,646.6 C293.4,646.6 293.0,644.6 295.4,642.2 Z" fill="#222"/><path d="M291.4,653.0 H299.4" stroke="#222" stroke-width="1"/>
</g>
<path d="M206,636 Q204.6,637 204.6,640 V677 Q204.6,680 208,680 H237 Q240,680 240,677 V640 Q240,637 238.5,636 Z" fill="url(#gjar)" />
<rect x="204.8" y="674.0" width="35.2" height="6.0" fill="#232634" rx="2" />
<rect x="208.0" y="623.0" width="28.0" height="14.0" fill="url(#gwh)" rx="2" />
<g transform="rotate(0 222.9 661.0)">
<rect x="206.6" y="646.3" width="32.7" height="29.3" fill="#f7f7f7" />
<path d="M222.9,648.9 L235.0,661.0 L222.9,673.0 L210.9,661.0 Z" fill="#fff" stroke="#d8202a" stroke-width="1.7" stroke-linejoin="miter"/>
<path d="M222.9,656.0 C226.9,660.0 226.3,664.6 222.9,664.6 C219.5,664.6 219.3,661.0 222.9,656.0 Z" fill="#222"/><path d="M218.9,666.0 H226.9" stroke="#222" stroke-width="1"/>
</g>
<path d="M63,571 C62.5,582 57.6,588 57.3,600 V679 Q57.3,683 62,683 H91 Q96,683 96,679 V604 C95.6,592 82.5,584 81,571 Z" fill="url(#gc1)" />
<path d="M57.3,600.5 C66,603 88,603 96,600.5 V679 Q96,683 91,683 H62 Q57.3,683 57.3,679 Z" fill="url(#gy1)" />
<rect x="61.9" y="559.5" width="19.7" height="12.5" fill="url(#gblu)" rx="2" />
<rect x="65.7" y="550.6" width="10.6" height="9.9" fill="url(#gblu)" rx="1.5" />
<g transform="rotate(-1.5 77.9 632.8)">
<rect x="61.8" y="616.5" width="32.2" height="32.5" fill="#f7f7f7" />
<path d="M77.9,619.2 L91.4,632.8 L77.9,646.2 L64.4,632.8 Z" fill="#fff" stroke="#d8202a" stroke-width="1.7" stroke-linejoin="miter"/>
<path d="M76.8,627.8 h2.2 l-0.5,6 h-1.2 Z" fill="#222"/><circle cx="77.9" cy="636.4" r="1.1" fill="#222"/>
</g>
<path d="M123,607 C122,614 116.2,617 115.8,625 V679 Q115.8,683 120,683 H143.5 Q147.7,683 147.7,679 V625 C147.3,617 139.5,614 138.6,607 Z" fill="url(#gb3)" />
<rect x="122.4" y="597.2" width="16.9" height="11.0" fill="url(#gred)" rx="2" />
<g transform="rotate(0 132.1 651.8)">
<rect x="117.6" y="636.5" width="29.0" height="30.5" fill="#f7f7f7" />
<path d="M132.1,639.9 L144.0,651.8 L132.1,663.6 L120.2,651.8 Z" fill="#fff" stroke="#d8202a" stroke-width="1.7" stroke-linejoin="miter"/>
<path d="M127.6,654.8 h4 l1,-3 l1.4,2 l2.6,-1.6 v2.6 Z M129.1,653.4 l1,-4.5" fill="#555" stroke="#555" stroke-width="0.8"/>
</g>
<path d="M179,610 C178,617 172,620 171.5,628 V678 Q171.5,682.4 176,682.4 H198 Q202.4,682.4 202.4,678 V628 C202,620 194.5,617 193.5,610 Z" fill="url(#gcl)" />
<rect x="178.5" y="597.0" width="15.5" height="14.0" fill="url(#gcl)" rx="2" />
<g transform="rotate(0 187.4 653.2)">
<rect x="173.6" y="636.5" width="27.6" height="33.5" fill="#f7f7f7" />
<path d="M187.4,642.0 L198.6,653.2 L187.4,664.5 L176.2,653.2 Z" fill="#fff" stroke="#d8202a" stroke-width="1.7" stroke-linejoin="miter"/>
<path d="M182.4,655.6 L192.0,650.6" stroke="#222" stroke-width="2.4"/>
</g>
</svg>
</body></html>
